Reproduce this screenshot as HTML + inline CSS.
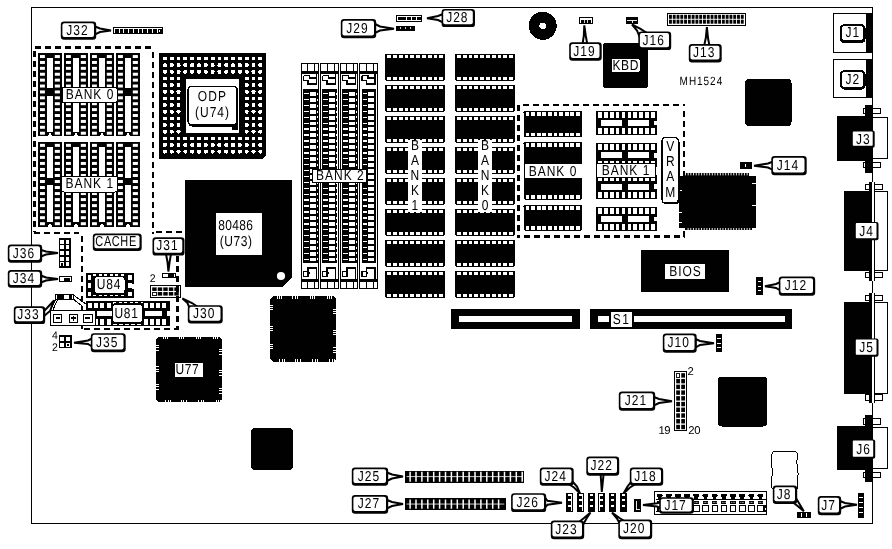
<!DOCTYPE html>
<html><head><meta charset="utf-8"><title>MH1524</title>
<style>html,body{margin:0;padding:0;background:#fff;}body{width:892px;height:549px;overflow:hidden;font-family:"Liberation Sans",sans-serif;}svg{display:block;filter:grayscale(1);}</style>
</head><body>
<svg width="892" height="549" viewBox="0 0 892 549" font-family="Liberation Sans, sans-serif" shape-rendering="crispEdges" text-rendering="geometricPrecision"><g opacity="0.999">
<path d="M31.5 7.5 H872.5 V523.5 H31.5 Z" fill="none" stroke="#000" stroke-width="1"/>
<path d="M35.00 47.50 H153.00" fill="none" stroke="#000" stroke-width="3" stroke-dasharray="6 4"/>
<path d="M34.50 51.00 V232.00" fill="none" stroke="#000" stroke-width="3" stroke-dasharray="6 4"/>
<path d="M152.50 52.00 V234.00" fill="none" stroke="#000" stroke-width="2" stroke-dasharray="6 4"/>
<path d="M33.50 233.00 H79.00" fill="none" stroke="#000" stroke-width="2" stroke-dasharray="6 4"/>
<path d="M156.00 232.00 H182.00" fill="none" stroke="#000" stroke-width="2" stroke-dasharray="6 4"/>
<path d="M82.00 236.00 V329.00" fill="none" stroke="#000" stroke-width="2" stroke-dasharray="6 4"/>
<path d="M84.00 329.00 H178.00" fill="none" stroke="#000" stroke-width="2" stroke-dasharray="6 4"/>
<rect x="37.90" y="53.20" width="23.70" height="82.80" fill="#000" />
<rect x="40.00" y="55.05" width="4.90" height="3.00" fill="#fff" shape-rendering="auto"/>
<rect x="54.80" y="55.05" width="5.10" height="3.00" fill="#fff" shape-rendering="auto"/>
<rect x="40.00" y="60.95" width="4.90" height="3.00" fill="#fff" shape-rendering="auto"/>
<rect x="54.80" y="60.95" width="5.10" height="3.00" fill="#fff" shape-rendering="auto"/>
<rect x="40.00" y="66.84" width="4.90" height="3.00" fill="#fff" shape-rendering="auto"/>
<rect x="54.80" y="66.84" width="5.10" height="3.00" fill="#fff" shape-rendering="auto"/>
<rect x="40.00" y="72.74" width="4.90" height="3.00" fill="#fff" shape-rendering="auto"/>
<rect x="54.80" y="72.74" width="5.10" height="3.00" fill="#fff" shape-rendering="auto"/>
<rect x="40.00" y="78.63" width="4.90" height="3.00" fill="#fff" shape-rendering="auto"/>
<rect x="54.80" y="78.63" width="5.10" height="3.00" fill="#fff" shape-rendering="auto"/>
<rect x="40.00" y="84.53" width="4.90" height="3.00" fill="#fff" shape-rendering="auto"/>
<rect x="54.80" y="84.53" width="5.10" height="3.00" fill="#fff" shape-rendering="auto"/>
<rect x="40.00" y="90.43" width="4.90" height="3.00" fill="#fff" shape-rendering="auto"/>
<rect x="54.80" y="90.43" width="5.10" height="3.00" fill="#fff" shape-rendering="auto"/>
<rect x="40.00" y="96.32" width="4.90" height="3.00" fill="#fff" shape-rendering="auto"/>
<rect x="54.80" y="96.32" width="5.10" height="3.00" fill="#fff" shape-rendering="auto"/>
<rect x="40.00" y="102.22" width="4.90" height="3.00" fill="#fff" shape-rendering="auto"/>
<rect x="54.80" y="102.22" width="5.10" height="3.00" fill="#fff" shape-rendering="auto"/>
<rect x="40.00" y="108.12" width="4.90" height="3.00" fill="#fff" shape-rendering="auto"/>
<rect x="54.80" y="108.12" width="5.10" height="3.00" fill="#fff" shape-rendering="auto"/>
<rect x="40.00" y="114.01" width="4.90" height="3.00" fill="#fff" shape-rendering="auto"/>
<rect x="54.80" y="114.01" width="5.10" height="3.00" fill="#fff" shape-rendering="auto"/>
<rect x="40.00" y="119.91" width="4.90" height="3.00" fill="#fff" shape-rendering="auto"/>
<rect x="54.80" y="119.91" width="5.10" height="3.00" fill="#fff" shape-rendering="auto"/>
<rect x="40.00" y="125.80" width="4.90" height="3.00" fill="#fff" shape-rendering="auto"/>
<rect x="54.80" y="125.80" width="5.10" height="3.00" fill="#fff" shape-rendering="auto"/>
<rect x="40.00" y="131.70" width="4.90" height="3.00" fill="#fff" shape-rendering="auto"/>
<rect x="54.80" y="131.70" width="5.10" height="3.00" fill="#fff" shape-rendering="auto"/>
<rect x="47.10" y="58.10" width="5.80" height="30.30" fill="#fff" />
<rect x="47.10" y="95.80" width="5.80" height="36.00" fill="#fff" />
<polygon points="47.40,136.20 50.00,132.80 52.60,136.20" fill="#fff"/>
<rect x="63.90" y="53.20" width="23.70" height="82.80" fill="#000" />
<rect x="66.00" y="55.05" width="4.90" height="3.00" fill="#fff" shape-rendering="auto"/>
<rect x="80.80" y="55.05" width="5.10" height="3.00" fill="#fff" shape-rendering="auto"/>
<rect x="66.00" y="60.95" width="4.90" height="3.00" fill="#fff" shape-rendering="auto"/>
<rect x="80.80" y="60.95" width="5.10" height="3.00" fill="#fff" shape-rendering="auto"/>
<rect x="66.00" y="66.84" width="4.90" height="3.00" fill="#fff" shape-rendering="auto"/>
<rect x="80.80" y="66.84" width="5.10" height="3.00" fill="#fff" shape-rendering="auto"/>
<rect x="66.00" y="72.74" width="4.90" height="3.00" fill="#fff" shape-rendering="auto"/>
<rect x="80.80" y="72.74" width="5.10" height="3.00" fill="#fff" shape-rendering="auto"/>
<rect x="66.00" y="78.63" width="4.90" height="3.00" fill="#fff" shape-rendering="auto"/>
<rect x="80.80" y="78.63" width="5.10" height="3.00" fill="#fff" shape-rendering="auto"/>
<rect x="66.00" y="84.53" width="4.90" height="3.00" fill="#fff" shape-rendering="auto"/>
<rect x="80.80" y="84.53" width="5.10" height="3.00" fill="#fff" shape-rendering="auto"/>
<rect x="66.00" y="90.43" width="4.90" height="3.00" fill="#fff" shape-rendering="auto"/>
<rect x="80.80" y="90.43" width="5.10" height="3.00" fill="#fff" shape-rendering="auto"/>
<rect x="66.00" y="96.32" width="4.90" height="3.00" fill="#fff" shape-rendering="auto"/>
<rect x="80.80" y="96.32" width="5.10" height="3.00" fill="#fff" shape-rendering="auto"/>
<rect x="66.00" y="102.22" width="4.90" height="3.00" fill="#fff" shape-rendering="auto"/>
<rect x="80.80" y="102.22" width="5.10" height="3.00" fill="#fff" shape-rendering="auto"/>
<rect x="66.00" y="108.12" width="4.90" height="3.00" fill="#fff" shape-rendering="auto"/>
<rect x="80.80" y="108.12" width="5.10" height="3.00" fill="#fff" shape-rendering="auto"/>
<rect x="66.00" y="114.01" width="4.90" height="3.00" fill="#fff" shape-rendering="auto"/>
<rect x="80.80" y="114.01" width="5.10" height="3.00" fill="#fff" shape-rendering="auto"/>
<rect x="66.00" y="119.91" width="4.90" height="3.00" fill="#fff" shape-rendering="auto"/>
<rect x="80.80" y="119.91" width="5.10" height="3.00" fill="#fff" shape-rendering="auto"/>
<rect x="66.00" y="125.80" width="4.90" height="3.00" fill="#fff" shape-rendering="auto"/>
<rect x="80.80" y="125.80" width="5.10" height="3.00" fill="#fff" shape-rendering="auto"/>
<rect x="66.00" y="131.70" width="4.90" height="3.00" fill="#fff" shape-rendering="auto"/>
<rect x="80.80" y="131.70" width="5.10" height="3.00" fill="#fff" shape-rendering="auto"/>
<rect x="73.10" y="58.10" width="5.80" height="30.30" fill="#fff" />
<rect x="73.10" y="95.80" width="5.80" height="36.00" fill="#fff" />
<polygon points="73.40,136.20 76.00,132.80 78.60,136.20" fill="#fff"/>
<rect x="89.90" y="53.20" width="23.70" height="82.80" fill="#000" />
<rect x="92.00" y="55.05" width="4.90" height="3.00" fill="#fff" shape-rendering="auto"/>
<rect x="106.80" y="55.05" width="5.10" height="3.00" fill="#fff" shape-rendering="auto"/>
<rect x="92.00" y="60.95" width="4.90" height="3.00" fill="#fff" shape-rendering="auto"/>
<rect x="106.80" y="60.95" width="5.10" height="3.00" fill="#fff" shape-rendering="auto"/>
<rect x="92.00" y="66.84" width="4.90" height="3.00" fill="#fff" shape-rendering="auto"/>
<rect x="106.80" y="66.84" width="5.10" height="3.00" fill="#fff" shape-rendering="auto"/>
<rect x="92.00" y="72.74" width="4.90" height="3.00" fill="#fff" shape-rendering="auto"/>
<rect x="106.80" y="72.74" width="5.10" height="3.00" fill="#fff" shape-rendering="auto"/>
<rect x="92.00" y="78.63" width="4.90" height="3.00" fill="#fff" shape-rendering="auto"/>
<rect x="106.80" y="78.63" width="5.10" height="3.00" fill="#fff" shape-rendering="auto"/>
<rect x="92.00" y="84.53" width="4.90" height="3.00" fill="#fff" shape-rendering="auto"/>
<rect x="106.80" y="84.53" width="5.10" height="3.00" fill="#fff" shape-rendering="auto"/>
<rect x="92.00" y="90.43" width="4.90" height="3.00" fill="#fff" shape-rendering="auto"/>
<rect x="106.80" y="90.43" width="5.10" height="3.00" fill="#fff" shape-rendering="auto"/>
<rect x="92.00" y="96.32" width="4.90" height="3.00" fill="#fff" shape-rendering="auto"/>
<rect x="106.80" y="96.32" width="5.10" height="3.00" fill="#fff" shape-rendering="auto"/>
<rect x="92.00" y="102.22" width="4.90" height="3.00" fill="#fff" shape-rendering="auto"/>
<rect x="106.80" y="102.22" width="5.10" height="3.00" fill="#fff" shape-rendering="auto"/>
<rect x="92.00" y="108.12" width="4.90" height="3.00" fill="#fff" shape-rendering="auto"/>
<rect x="106.80" y="108.12" width="5.10" height="3.00" fill="#fff" shape-rendering="auto"/>
<rect x="92.00" y="114.01" width="4.90" height="3.00" fill="#fff" shape-rendering="auto"/>
<rect x="106.80" y="114.01" width="5.10" height="3.00" fill="#fff" shape-rendering="auto"/>
<rect x="92.00" y="119.91" width="4.90" height="3.00" fill="#fff" shape-rendering="auto"/>
<rect x="106.80" y="119.91" width="5.10" height="3.00" fill="#fff" shape-rendering="auto"/>
<rect x="92.00" y="125.80" width="4.90" height="3.00" fill="#fff" shape-rendering="auto"/>
<rect x="106.80" y="125.80" width="5.10" height="3.00" fill="#fff" shape-rendering="auto"/>
<rect x="92.00" y="131.70" width="4.90" height="3.00" fill="#fff" shape-rendering="auto"/>
<rect x="106.80" y="131.70" width="5.10" height="3.00" fill="#fff" shape-rendering="auto"/>
<rect x="99.10" y="58.10" width="5.80" height="30.30" fill="#fff" />
<rect x="99.10" y="95.80" width="5.80" height="36.00" fill="#fff" />
<polygon points="99.40,136.20 102.00,132.80 104.60,136.20" fill="#fff"/>
<rect x="115.90" y="53.20" width="23.70" height="82.80" fill="#000" />
<rect x="118.00" y="55.05" width="4.90" height="3.00" fill="#fff" shape-rendering="auto"/>
<rect x="132.80" y="55.05" width="5.10" height="3.00" fill="#fff" shape-rendering="auto"/>
<rect x="118.00" y="60.95" width="4.90" height="3.00" fill="#fff" shape-rendering="auto"/>
<rect x="132.80" y="60.95" width="5.10" height="3.00" fill="#fff" shape-rendering="auto"/>
<rect x="118.00" y="66.84" width="4.90" height="3.00" fill="#fff" shape-rendering="auto"/>
<rect x="132.80" y="66.84" width="5.10" height="3.00" fill="#fff" shape-rendering="auto"/>
<rect x="118.00" y="72.74" width="4.90" height="3.00" fill="#fff" shape-rendering="auto"/>
<rect x="132.80" y="72.74" width="5.10" height="3.00" fill="#fff" shape-rendering="auto"/>
<rect x="118.00" y="78.63" width="4.90" height="3.00" fill="#fff" shape-rendering="auto"/>
<rect x="132.80" y="78.63" width="5.10" height="3.00" fill="#fff" shape-rendering="auto"/>
<rect x="118.00" y="84.53" width="4.90" height="3.00" fill="#fff" shape-rendering="auto"/>
<rect x="132.80" y="84.53" width="5.10" height="3.00" fill="#fff" shape-rendering="auto"/>
<rect x="118.00" y="90.43" width="4.90" height="3.00" fill="#fff" shape-rendering="auto"/>
<rect x="132.80" y="90.43" width="5.10" height="3.00" fill="#fff" shape-rendering="auto"/>
<rect x="118.00" y="96.32" width="4.90" height="3.00" fill="#fff" shape-rendering="auto"/>
<rect x="132.80" y="96.32" width="5.10" height="3.00" fill="#fff" shape-rendering="auto"/>
<rect x="118.00" y="102.22" width="4.90" height="3.00" fill="#fff" shape-rendering="auto"/>
<rect x="132.80" y="102.22" width="5.10" height="3.00" fill="#fff" shape-rendering="auto"/>
<rect x="118.00" y="108.12" width="4.90" height="3.00" fill="#fff" shape-rendering="auto"/>
<rect x="132.80" y="108.12" width="5.10" height="3.00" fill="#fff" shape-rendering="auto"/>
<rect x="118.00" y="114.01" width="4.90" height="3.00" fill="#fff" shape-rendering="auto"/>
<rect x="132.80" y="114.01" width="5.10" height="3.00" fill="#fff" shape-rendering="auto"/>
<rect x="118.00" y="119.91" width="4.90" height="3.00" fill="#fff" shape-rendering="auto"/>
<rect x="132.80" y="119.91" width="5.10" height="3.00" fill="#fff" shape-rendering="auto"/>
<rect x="118.00" y="125.80" width="4.90" height="3.00" fill="#fff" shape-rendering="auto"/>
<rect x="132.80" y="125.80" width="5.10" height="3.00" fill="#fff" shape-rendering="auto"/>
<rect x="118.00" y="131.70" width="4.90" height="3.00" fill="#fff" shape-rendering="auto"/>
<rect x="132.80" y="131.70" width="5.10" height="3.00" fill="#fff" shape-rendering="auto"/>
<rect x="125.10" y="58.10" width="5.80" height="30.30" fill="#fff" />
<rect x="125.10" y="95.80" width="5.80" height="36.00" fill="#fff" />
<polygon points="125.40,136.20 128.00,132.80 130.60,136.20" fill="#fff"/>
<rect x="37.90" y="142.00" width="23.70" height="84.50" fill="#000" />
<rect x="40.00" y="143.85" width="4.90" height="3.00" fill="#fff" shape-rendering="auto"/>
<rect x="54.80" y="143.85" width="5.10" height="3.00" fill="#fff" shape-rendering="auto"/>
<rect x="40.00" y="149.88" width="4.90" height="3.00" fill="#fff" shape-rendering="auto"/>
<rect x="54.80" y="149.88" width="5.10" height="3.00" fill="#fff" shape-rendering="auto"/>
<rect x="40.00" y="155.90" width="4.90" height="3.00" fill="#fff" shape-rendering="auto"/>
<rect x="54.80" y="155.90" width="5.10" height="3.00" fill="#fff" shape-rendering="auto"/>
<rect x="40.00" y="161.93" width="4.90" height="3.00" fill="#fff" shape-rendering="auto"/>
<rect x="54.80" y="161.93" width="5.10" height="3.00" fill="#fff" shape-rendering="auto"/>
<rect x="40.00" y="167.96" width="4.90" height="3.00" fill="#fff" shape-rendering="auto"/>
<rect x="54.80" y="167.96" width="5.10" height="3.00" fill="#fff" shape-rendering="auto"/>
<rect x="40.00" y="173.98" width="4.90" height="3.00" fill="#fff" shape-rendering="auto"/>
<rect x="54.80" y="173.98" width="5.10" height="3.00" fill="#fff" shape-rendering="auto"/>
<rect x="40.00" y="180.01" width="4.90" height="3.00" fill="#fff" shape-rendering="auto"/>
<rect x="54.80" y="180.01" width="5.10" height="3.00" fill="#fff" shape-rendering="auto"/>
<rect x="40.00" y="186.04" width="4.90" height="3.00" fill="#fff" shape-rendering="auto"/>
<rect x="54.80" y="186.04" width="5.10" height="3.00" fill="#fff" shape-rendering="auto"/>
<rect x="40.00" y="192.07" width="4.90" height="3.00" fill="#fff" shape-rendering="auto"/>
<rect x="54.80" y="192.07" width="5.10" height="3.00" fill="#fff" shape-rendering="auto"/>
<rect x="40.00" y="198.09" width="4.90" height="3.00" fill="#fff" shape-rendering="auto"/>
<rect x="54.80" y="198.09" width="5.10" height="3.00" fill="#fff" shape-rendering="auto"/>
<rect x="40.00" y="204.12" width="4.90" height="3.00" fill="#fff" shape-rendering="auto"/>
<rect x="54.80" y="204.12" width="5.10" height="3.00" fill="#fff" shape-rendering="auto"/>
<rect x="40.00" y="210.15" width="4.90" height="3.00" fill="#fff" shape-rendering="auto"/>
<rect x="54.80" y="210.15" width="5.10" height="3.00" fill="#fff" shape-rendering="auto"/>
<rect x="40.00" y="216.17" width="4.90" height="3.00" fill="#fff" shape-rendering="auto"/>
<rect x="54.80" y="216.17" width="5.10" height="3.00" fill="#fff" shape-rendering="auto"/>
<rect x="40.00" y="222.20" width="4.90" height="3.00" fill="#fff" shape-rendering="auto"/>
<rect x="54.80" y="222.20" width="5.10" height="3.00" fill="#fff" shape-rendering="auto"/>
<rect x="47.10" y="146.90" width="5.80" height="31.15" fill="#fff" />
<rect x="47.10" y="185.45" width="5.80" height="36.85" fill="#fff" />
<polygon points="47.40,226.70 50.00,223.30 52.60,226.70" fill="#fff"/>
<rect x="63.90" y="142.00" width="23.70" height="84.50" fill="#000" />
<rect x="66.00" y="143.85" width="4.90" height="3.00" fill="#fff" shape-rendering="auto"/>
<rect x="80.80" y="143.85" width="5.10" height="3.00" fill="#fff" shape-rendering="auto"/>
<rect x="66.00" y="149.88" width="4.90" height="3.00" fill="#fff" shape-rendering="auto"/>
<rect x="80.80" y="149.88" width="5.10" height="3.00" fill="#fff" shape-rendering="auto"/>
<rect x="66.00" y="155.90" width="4.90" height="3.00" fill="#fff" shape-rendering="auto"/>
<rect x="80.80" y="155.90" width="5.10" height="3.00" fill="#fff" shape-rendering="auto"/>
<rect x="66.00" y="161.93" width="4.90" height="3.00" fill="#fff" shape-rendering="auto"/>
<rect x="80.80" y="161.93" width="5.10" height="3.00" fill="#fff" shape-rendering="auto"/>
<rect x="66.00" y="167.96" width="4.90" height="3.00" fill="#fff" shape-rendering="auto"/>
<rect x="80.80" y="167.96" width="5.10" height="3.00" fill="#fff" shape-rendering="auto"/>
<rect x="66.00" y="173.98" width="4.90" height="3.00" fill="#fff" shape-rendering="auto"/>
<rect x="80.80" y="173.98" width="5.10" height="3.00" fill="#fff" shape-rendering="auto"/>
<rect x="66.00" y="180.01" width="4.90" height="3.00" fill="#fff" shape-rendering="auto"/>
<rect x="80.80" y="180.01" width="5.10" height="3.00" fill="#fff" shape-rendering="auto"/>
<rect x="66.00" y="186.04" width="4.90" height="3.00" fill="#fff" shape-rendering="auto"/>
<rect x="80.80" y="186.04" width="5.10" height="3.00" fill="#fff" shape-rendering="auto"/>
<rect x="66.00" y="192.07" width="4.90" height="3.00" fill="#fff" shape-rendering="auto"/>
<rect x="80.80" y="192.07" width="5.10" height="3.00" fill="#fff" shape-rendering="auto"/>
<rect x="66.00" y="198.09" width="4.90" height="3.00" fill="#fff" shape-rendering="auto"/>
<rect x="80.80" y="198.09" width="5.10" height="3.00" fill="#fff" shape-rendering="auto"/>
<rect x="66.00" y="204.12" width="4.90" height="3.00" fill="#fff" shape-rendering="auto"/>
<rect x="80.80" y="204.12" width="5.10" height="3.00" fill="#fff" shape-rendering="auto"/>
<rect x="66.00" y="210.15" width="4.90" height="3.00" fill="#fff" shape-rendering="auto"/>
<rect x="80.80" y="210.15" width="5.10" height="3.00" fill="#fff" shape-rendering="auto"/>
<rect x="66.00" y="216.17" width="4.90" height="3.00" fill="#fff" shape-rendering="auto"/>
<rect x="80.80" y="216.17" width="5.10" height="3.00" fill="#fff" shape-rendering="auto"/>
<rect x="66.00" y="222.20" width="4.90" height="3.00" fill="#fff" shape-rendering="auto"/>
<rect x="80.80" y="222.20" width="5.10" height="3.00" fill="#fff" shape-rendering="auto"/>
<rect x="73.10" y="146.90" width="5.80" height="31.15" fill="#fff" />
<rect x="73.10" y="185.45" width="5.80" height="36.85" fill="#fff" />
<polygon points="73.40,226.70 76.00,223.30 78.60,226.70" fill="#fff"/>
<rect x="89.90" y="142.00" width="23.70" height="84.50" fill="#000" />
<rect x="92.00" y="143.85" width="4.90" height="3.00" fill="#fff" shape-rendering="auto"/>
<rect x="106.80" y="143.85" width="5.10" height="3.00" fill="#fff" shape-rendering="auto"/>
<rect x="92.00" y="149.88" width="4.90" height="3.00" fill="#fff" shape-rendering="auto"/>
<rect x="106.80" y="149.88" width="5.10" height="3.00" fill="#fff" shape-rendering="auto"/>
<rect x="92.00" y="155.90" width="4.90" height="3.00" fill="#fff" shape-rendering="auto"/>
<rect x="106.80" y="155.90" width="5.10" height="3.00" fill="#fff" shape-rendering="auto"/>
<rect x="92.00" y="161.93" width="4.90" height="3.00" fill="#fff" shape-rendering="auto"/>
<rect x="106.80" y="161.93" width="5.10" height="3.00" fill="#fff" shape-rendering="auto"/>
<rect x="92.00" y="167.96" width="4.90" height="3.00" fill="#fff" shape-rendering="auto"/>
<rect x="106.80" y="167.96" width="5.10" height="3.00" fill="#fff" shape-rendering="auto"/>
<rect x="92.00" y="173.98" width="4.90" height="3.00" fill="#fff" shape-rendering="auto"/>
<rect x="106.80" y="173.98" width="5.10" height="3.00" fill="#fff" shape-rendering="auto"/>
<rect x="92.00" y="180.01" width="4.90" height="3.00" fill="#fff" shape-rendering="auto"/>
<rect x="106.80" y="180.01" width="5.10" height="3.00" fill="#fff" shape-rendering="auto"/>
<rect x="92.00" y="186.04" width="4.90" height="3.00" fill="#fff" shape-rendering="auto"/>
<rect x="106.80" y="186.04" width="5.10" height="3.00" fill="#fff" shape-rendering="auto"/>
<rect x="92.00" y="192.07" width="4.90" height="3.00" fill="#fff" shape-rendering="auto"/>
<rect x="106.80" y="192.07" width="5.10" height="3.00" fill="#fff" shape-rendering="auto"/>
<rect x="92.00" y="198.09" width="4.90" height="3.00" fill="#fff" shape-rendering="auto"/>
<rect x="106.80" y="198.09" width="5.10" height="3.00" fill="#fff" shape-rendering="auto"/>
<rect x="92.00" y="204.12" width="4.90" height="3.00" fill="#fff" shape-rendering="auto"/>
<rect x="106.80" y="204.12" width="5.10" height="3.00" fill="#fff" shape-rendering="auto"/>
<rect x="92.00" y="210.15" width="4.90" height="3.00" fill="#fff" shape-rendering="auto"/>
<rect x="106.80" y="210.15" width="5.10" height="3.00" fill="#fff" shape-rendering="auto"/>
<rect x="92.00" y="216.17" width="4.90" height="3.00" fill="#fff" shape-rendering="auto"/>
<rect x="106.80" y="216.17" width="5.10" height="3.00" fill="#fff" shape-rendering="auto"/>
<rect x="92.00" y="222.20" width="4.90" height="3.00" fill="#fff" shape-rendering="auto"/>
<rect x="106.80" y="222.20" width="5.10" height="3.00" fill="#fff" shape-rendering="auto"/>
<rect x="99.10" y="146.90" width="5.80" height="31.15" fill="#fff" />
<rect x="99.10" y="185.45" width="5.80" height="36.85" fill="#fff" />
<polygon points="99.40,226.70 102.00,223.30 104.60,226.70" fill="#fff"/>
<rect x="115.90" y="142.00" width="23.70" height="84.50" fill="#000" />
<rect x="118.00" y="143.85" width="4.90" height="3.00" fill="#fff" shape-rendering="auto"/>
<rect x="132.80" y="143.85" width="5.10" height="3.00" fill="#fff" shape-rendering="auto"/>
<rect x="118.00" y="149.88" width="4.90" height="3.00" fill="#fff" shape-rendering="auto"/>
<rect x="132.80" y="149.88" width="5.10" height="3.00" fill="#fff" shape-rendering="auto"/>
<rect x="118.00" y="155.90" width="4.90" height="3.00" fill="#fff" shape-rendering="auto"/>
<rect x="132.80" y="155.90" width="5.10" height="3.00" fill="#fff" shape-rendering="auto"/>
<rect x="118.00" y="161.93" width="4.90" height="3.00" fill="#fff" shape-rendering="auto"/>
<rect x="132.80" y="161.93" width="5.10" height="3.00" fill="#fff" shape-rendering="auto"/>
<rect x="118.00" y="167.96" width="4.90" height="3.00" fill="#fff" shape-rendering="auto"/>
<rect x="132.80" y="167.96" width="5.10" height="3.00" fill="#fff" shape-rendering="auto"/>
<rect x="118.00" y="173.98" width="4.90" height="3.00" fill="#fff" shape-rendering="auto"/>
<rect x="132.80" y="173.98" width="5.10" height="3.00" fill="#fff" shape-rendering="auto"/>
<rect x="118.00" y="180.01" width="4.90" height="3.00" fill="#fff" shape-rendering="auto"/>
<rect x="132.80" y="180.01" width="5.10" height="3.00" fill="#fff" shape-rendering="auto"/>
<rect x="118.00" y="186.04" width="4.90" height="3.00" fill="#fff" shape-rendering="auto"/>
<rect x="132.80" y="186.04" width="5.10" height="3.00" fill="#fff" shape-rendering="auto"/>
<rect x="118.00" y="192.07" width="4.90" height="3.00" fill="#fff" shape-rendering="auto"/>
<rect x="132.80" y="192.07" width="5.10" height="3.00" fill="#fff" shape-rendering="auto"/>
<rect x="118.00" y="198.09" width="4.90" height="3.00" fill="#fff" shape-rendering="auto"/>
<rect x="132.80" y="198.09" width="5.10" height="3.00" fill="#fff" shape-rendering="auto"/>
<rect x="118.00" y="204.12" width="4.90" height="3.00" fill="#fff" shape-rendering="auto"/>
<rect x="132.80" y="204.12" width="5.10" height="3.00" fill="#fff" shape-rendering="auto"/>
<rect x="118.00" y="210.15" width="4.90" height="3.00" fill="#fff" shape-rendering="auto"/>
<rect x="132.80" y="210.15" width="5.10" height="3.00" fill="#fff" shape-rendering="auto"/>
<rect x="118.00" y="216.17" width="4.90" height="3.00" fill="#fff" shape-rendering="auto"/>
<rect x="132.80" y="216.17" width="5.10" height="3.00" fill="#fff" shape-rendering="auto"/>
<rect x="118.00" y="222.20" width="4.90" height="3.00" fill="#fff" shape-rendering="auto"/>
<rect x="132.80" y="222.20" width="5.10" height="3.00" fill="#fff" shape-rendering="auto"/>
<rect x="125.10" y="146.90" width="5.80" height="31.15" fill="#fff" />
<rect x="125.10" y="185.45" width="5.80" height="36.85" fill="#fff" />
<polygon points="125.40,226.70 128.00,223.30 130.60,226.70" fill="#fff"/>
<rect x="62.00" y="87.50" width="55.00" height="15.00" fill="#fff" stroke="#000" stroke-width="1" rx="1.5" />
<text transform="translate(90.00 99.32) scale(1 1.2)" font-size="12" text-anchor="middle" letter-spacing="1" fill="#000" >BANK 0</text>
<rect x="61.00" y="176.00" width="56.50" height="16.00" fill="#fff" stroke="#000" stroke-width="1" rx="3" />
<text transform="translate(89.75 188.32) scale(1 1.2)" font-size="12" text-anchor="middle" letter-spacing="1" fill="#000" >BANK 1</text>
<rect x="92.80" y="233.60" width="48.90" height="17.40" fill="#000" rx="3.2" shape-rendering="geometricPrecision"/>
<rect x="94.40" y="235.20" width="45.10" height="13.00" fill="#fff" rx="2.0" shape-rendering="geometricPrecision"/>
<text transform="translate(116.10 246.32) scale(1 1.2)" font-size="12" text-anchor="middle" letter-spacing="0.7" fill="#000" textLength="41.5" lengthAdjust="spacingAndGlyphs">CACHE</text>
<path d="M159 53 H266 V155 L262 159 H159 Z" fill="#000"/>
<rect x="163.00" y="56.70" width="3.80" height="3.60" fill="#fff" />
<rect x="169.81" y="56.70" width="3.80" height="3.60" fill="#fff" />
<rect x="176.63" y="56.70" width="3.80" height="3.60" fill="#fff" />
<rect x="183.44" y="56.70" width="3.80" height="3.60" fill="#fff" />
<rect x="190.26" y="56.70" width="3.80" height="3.60" fill="#fff" />
<rect x="197.08" y="56.70" width="3.80" height="3.60" fill="#fff" />
<rect x="203.89" y="56.70" width="3.80" height="3.60" fill="#fff" />
<rect x="210.71" y="56.70" width="3.80" height="3.60" fill="#fff" />
<rect x="217.52" y="56.70" width="3.80" height="3.60" fill="#fff" />
<rect x="224.34" y="56.70" width="3.80" height="3.60" fill="#fff" />
<rect x="231.15" y="56.70" width="3.80" height="3.60" fill="#fff" />
<rect x="237.97" y="56.70" width="3.80" height="3.60" fill="#fff" />
<rect x="244.78" y="56.70" width="3.80" height="3.60" fill="#fff" />
<rect x="251.59" y="56.70" width="3.80" height="3.60" fill="#fff" />
<rect x="258.41" y="56.70" width="3.80" height="3.60" fill="#fff" />
<circle cx="164.90" cy="65.15" r="2.1" fill="#fff"/>
<circle cx="171.72" cy="65.15" r="2.1" fill="#fff"/>
<circle cx="178.53" cy="65.15" r="2.1" fill="#fff"/>
<circle cx="185.34" cy="65.15" r="2.1" fill="#fff"/>
<circle cx="192.16" cy="65.15" r="2.1" fill="#fff"/>
<circle cx="198.98" cy="65.15" r="2.1" fill="#fff"/>
<circle cx="205.79" cy="65.15" r="2.1" fill="#fff"/>
<circle cx="212.61" cy="65.15" r="2.1" fill="#fff"/>
<circle cx="219.42" cy="65.15" r="2.1" fill="#fff"/>
<circle cx="226.24" cy="65.15" r="2.1" fill="#fff"/>
<circle cx="233.05" cy="65.15" r="2.1" fill="#fff"/>
<circle cx="239.87" cy="65.15" r="2.1" fill="#fff"/>
<circle cx="246.68" cy="65.15" r="2.1" fill="#fff"/>
<circle cx="253.50" cy="65.15" r="2.1" fill="#fff"/>
<circle cx="260.31" cy="65.15" r="2.1" fill="#fff"/>
<circle cx="164.90" cy="71.80" r="2.1" fill="#fff"/>
<circle cx="171.72" cy="71.80" r="2.1" fill="#fff"/>
<circle cx="178.53" cy="71.80" r="2.1" fill="#fff"/>
<circle cx="185.34" cy="71.80" r="2.1" fill="#fff"/>
<circle cx="192.16" cy="71.80" r="2.1" fill="#fff"/>
<circle cx="198.98" cy="71.80" r="2.1" fill="#fff"/>
<circle cx="205.79" cy="71.80" r="2.1" fill="#fff"/>
<circle cx="212.61" cy="71.80" r="2.1" fill="#fff"/>
<circle cx="219.42" cy="71.80" r="2.1" fill="#fff"/>
<circle cx="226.24" cy="71.80" r="2.1" fill="#fff"/>
<circle cx="233.05" cy="71.80" r="2.1" fill="#fff"/>
<circle cx="239.87" cy="71.80" r="2.1" fill="#fff"/>
<circle cx="246.68" cy="71.80" r="2.1" fill="#fff"/>
<circle cx="253.50" cy="71.80" r="2.1" fill="#fff"/>
<circle cx="260.31" cy="71.80" r="2.1" fill="#fff"/>
<rect x="163.00" y="76.65" width="3.80" height="3.60" fill="#fff" />
<rect x="169.81" y="76.65" width="3.80" height="3.60" fill="#fff" />
<rect x="176.63" y="76.65" width="3.80" height="3.60" fill="#fff" />
<rect x="244.78" y="76.65" width="3.80" height="3.60" fill="#fff" />
<rect x="251.59" y="76.65" width="3.80" height="3.60" fill="#fff" />
<rect x="258.41" y="76.65" width="3.80" height="3.60" fill="#fff" />
<circle cx="164.90" cy="85.10" r="2.1" fill="#fff"/>
<circle cx="171.72" cy="85.10" r="2.1" fill="#fff"/>
<circle cx="178.53" cy="85.10" r="2.1" fill="#fff"/>
<circle cx="246.68" cy="85.10" r="2.1" fill="#fff"/>
<circle cx="253.50" cy="85.10" r="2.1" fill="#fff"/>
<circle cx="260.31" cy="85.10" r="2.1" fill="#fff"/>
<circle cx="164.90" cy="91.75" r="2.1" fill="#fff"/>
<circle cx="171.72" cy="91.75" r="2.1" fill="#fff"/>
<circle cx="178.53" cy="91.75" r="2.1" fill="#fff"/>
<circle cx="246.68" cy="91.75" r="2.1" fill="#fff"/>
<circle cx="253.50" cy="91.75" r="2.1" fill="#fff"/>
<circle cx="260.31" cy="91.75" r="2.1" fill="#fff"/>
<rect x="163.00" y="96.60" width="3.80" height="3.60" fill="#fff" />
<rect x="169.81" y="96.60" width="3.80" height="3.60" fill="#fff" />
<rect x="176.63" y="96.60" width="3.80" height="3.60" fill="#fff" />
<rect x="244.78" y="96.60" width="3.80" height="3.60" fill="#fff" />
<rect x="251.59" y="96.60" width="3.80" height="3.60" fill="#fff" />
<rect x="258.41" y="96.60" width="3.80" height="3.60" fill="#fff" />
<circle cx="164.90" cy="105.05" r="2.1" fill="#fff"/>
<circle cx="171.72" cy="105.05" r="2.1" fill="#fff"/>
<circle cx="178.53" cy="105.05" r="2.1" fill="#fff"/>
<circle cx="246.68" cy="105.05" r="2.1" fill="#fff"/>
<circle cx="253.50" cy="105.05" r="2.1" fill="#fff"/>
<circle cx="260.31" cy="105.05" r="2.1" fill="#fff"/>
<circle cx="164.90" cy="111.70" r="2.1" fill="#fff"/>
<circle cx="171.72" cy="111.70" r="2.1" fill="#fff"/>
<circle cx="178.53" cy="111.70" r="2.1" fill="#fff"/>
<circle cx="246.68" cy="111.70" r="2.1" fill="#fff"/>
<circle cx="253.50" cy="111.70" r="2.1" fill="#fff"/>
<circle cx="260.31" cy="111.70" r="2.1" fill="#fff"/>
<rect x="163.00" y="116.55" width="3.80" height="3.60" fill="#fff" />
<rect x="169.81" y="116.55" width="3.80" height="3.60" fill="#fff" />
<rect x="176.63" y="116.55" width="3.80" height="3.60" fill="#fff" />
<rect x="244.78" y="116.55" width="3.80" height="3.60" fill="#fff" />
<rect x="251.59" y="116.55" width="3.80" height="3.60" fill="#fff" />
<rect x="258.41" y="116.55" width="3.80" height="3.60" fill="#fff" />
<circle cx="164.90" cy="125.00" r="2.1" fill="#fff"/>
<circle cx="171.72" cy="125.00" r="2.1" fill="#fff"/>
<circle cx="178.53" cy="125.00" r="2.1" fill="#fff"/>
<circle cx="246.68" cy="125.00" r="2.1" fill="#fff"/>
<circle cx="253.50" cy="125.00" r="2.1" fill="#fff"/>
<circle cx="260.31" cy="125.00" r="2.1" fill="#fff"/>
<circle cx="164.90" cy="131.65" r="2.1" fill="#fff"/>
<circle cx="171.72" cy="131.65" r="2.1" fill="#fff"/>
<circle cx="178.53" cy="131.65" r="2.1" fill="#fff"/>
<circle cx="246.68" cy="131.65" r="2.1" fill="#fff"/>
<circle cx="253.50" cy="131.65" r="2.1" fill="#fff"/>
<circle cx="260.31" cy="131.65" r="2.1" fill="#fff"/>
<rect x="163.00" y="136.50" width="3.80" height="3.60" fill="#fff" />
<rect x="169.81" y="136.50" width="3.80" height="3.60" fill="#fff" />
<rect x="176.63" y="136.50" width="3.80" height="3.60" fill="#fff" />
<rect x="183.44" y="136.50" width="3.80" height="3.60" fill="#fff" />
<rect x="190.26" y="136.50" width="3.80" height="3.60" fill="#fff" />
<rect x="197.08" y="136.50" width="3.80" height="3.60" fill="#fff" />
<rect x="203.89" y="136.50" width="3.80" height="3.60" fill="#fff" />
<rect x="210.71" y="136.50" width="3.80" height="3.60" fill="#fff" />
<rect x="217.52" y="136.50" width="3.80" height="3.60" fill="#fff" />
<rect x="224.34" y="136.50" width="3.80" height="3.60" fill="#fff" />
<rect x="231.15" y="136.50" width="3.80" height="3.60" fill="#fff" />
<rect x="237.97" y="136.50" width="3.80" height="3.60" fill="#fff" />
<rect x="244.78" y="136.50" width="3.80" height="3.60" fill="#fff" />
<rect x="251.59" y="136.50" width="3.80" height="3.60" fill="#fff" />
<rect x="258.41" y="136.50" width="3.80" height="3.60" fill="#fff" />
<circle cx="164.90" cy="144.95" r="2.1" fill="#fff"/>
<circle cx="171.72" cy="144.95" r="2.1" fill="#fff"/>
<circle cx="178.53" cy="144.95" r="2.1" fill="#fff"/>
<circle cx="185.34" cy="144.95" r="2.1" fill="#fff"/>
<circle cx="192.16" cy="144.95" r="2.1" fill="#fff"/>
<circle cx="198.98" cy="144.95" r="2.1" fill="#fff"/>
<circle cx="205.79" cy="144.95" r="2.1" fill="#fff"/>
<circle cx="212.61" cy="144.95" r="2.1" fill="#fff"/>
<circle cx="219.42" cy="144.95" r="2.1" fill="#fff"/>
<circle cx="226.24" cy="144.95" r="2.1" fill="#fff"/>
<circle cx="233.05" cy="144.95" r="2.1" fill="#fff"/>
<circle cx="239.87" cy="144.95" r="2.1" fill="#fff"/>
<circle cx="246.68" cy="144.95" r="2.1" fill="#fff"/>
<circle cx="253.50" cy="144.95" r="2.1" fill="#fff"/>
<circle cx="260.31" cy="144.95" r="2.1" fill="#fff"/>
<circle cx="164.90" cy="151.60" r="2.1" fill="#fff"/>
<circle cx="171.72" cy="151.60" r="2.1" fill="#fff"/>
<circle cx="178.53" cy="151.60" r="2.1" fill="#fff"/>
<circle cx="185.34" cy="151.60" r="2.1" fill="#fff"/>
<circle cx="192.16" cy="151.60" r="2.1" fill="#fff"/>
<circle cx="198.98" cy="151.60" r="2.1" fill="#fff"/>
<circle cx="205.79" cy="151.60" r="2.1" fill="#fff"/>
<circle cx="212.61" cy="151.60" r="2.1" fill="#fff"/>
<circle cx="219.42" cy="151.60" r="2.1" fill="#fff"/>
<circle cx="226.24" cy="151.60" r="2.1" fill="#fff"/>
<circle cx="233.05" cy="151.60" r="2.1" fill="#fff"/>
<circle cx="239.87" cy="151.60" r="2.1" fill="#fff"/>
<circle cx="246.68" cy="151.60" r="2.1" fill="#fff"/>
<circle cx="253.50" cy="151.60" r="2.1" fill="#fff"/>
<circle cx="260.31" cy="151.60" r="2.1" fill="#fff"/>
<rect x="185.60" y="79.00" width="53.40" height="54.00" fill="#fff" />
<rect x="188.50" y="87.00" width="49.50" height="39.50" fill="#000" rx="3" />
<rect x="188.00" y="86.50" width="48.50" height="38.00" fill="#fff" stroke="#000" stroke-width="1.2" rx="3" />
<rect x="232.00" y="124.00" width="5.50" height="5.50" fill="#000" />
<text transform="translate(212.50 101.20) scale(1 1.2)" font-size="12" text-anchor="middle" letter-spacing="1.2" fill="#000" >ODP</text>
<text transform="translate(212.50 116.80) scale(1 1.2)" font-size="12" text-anchor="middle" letter-spacing="1" fill="#000" >(U74)</text>
<path d="M185 180 H291.8 V278 L283 286.5 H185 Z" fill="#000"/>
<rect x="215.70" y="212.50" width="46.50" height="42.50" fill="#fff" />
<circle cx="281" cy="276" r="4.1" fill="#fff" shape-rendering="geometricPrecision"/>
<text transform="translate(235.80 230.00) scale(1 1.2)" font-size="12" text-anchor="middle" letter-spacing="0.3" fill="#000" >80486</text>
<text transform="translate(236.20 246.00) scale(1 1.2)" font-size="12" text-anchor="middle" letter-spacing="0.6" fill="#000" >(U73)</text>
<polygon points="95.00,26.50 100.00,28.50 111.00,30.50 100.00,32.00 95.00,34.50" fill="#fff" stroke="#000" stroke-width="2" stroke-linejoin="miter" shape-rendering="geometricPrecision"/>
<rect x="60.80" y="21.60" width="35.40" height="18.10" fill="#000" rx="3.2" shape-rendering="geometricPrecision"/>
<rect x="62.40" y="23.20" width="31.60" height="13.70" fill="#fff" rx="2.0" shape-rendering="geometricPrecision"/>
<text transform="translate(77.50 34.67) scale(1 1.2)" font-size="12" text-anchor="middle" letter-spacing="1" fill="#000" >J32</text>
<rect x="113.50" y="27.30" width="49.00" height="6.00" fill="#fff" stroke="#000" stroke-width="1" />
<rect x="114.80" y="28.50" width="3.94" height="4.30" fill="#000" />
<rect x="119.54" y="28.50" width="3.94" height="4.30" fill="#000" />
<rect x="124.28" y="28.50" width="3.94" height="4.30" fill="#000" />
<rect x="129.02" y="28.50" width="3.94" height="4.30" fill="#000" />
<rect x="133.76" y="28.50" width="3.94" height="4.30" fill="#000" />
<rect x="138.50" y="28.50" width="3.94" height="4.30" fill="#000" />
<rect x="143.24" y="28.50" width="3.94" height="4.30" fill="#000" />
<rect x="147.98" y="28.50" width="3.94" height="4.30" fill="#000" />
<rect x="152.72" y="28.50" width="3.94" height="4.30" fill="#000" />
<rect x="157.66" y="28.50" width="3.94" height="4.30" fill="#000" />
<rect x="158.66" y="29.60" width="1.74" height="2.00" fill="#fff" />
<polygon points="41.00,250.00 46.00,251.50 58.00,253.00 46.00,254.50 41.00,256.50" fill="#fff" stroke="#000" stroke-width="2" stroke-linejoin="miter" shape-rendering="geometricPrecision"/>
<rect x="7.80" y="244.60" width="34.40" height="18.10" fill="#000" rx="3.2" shape-rendering="geometricPrecision"/>
<rect x="9.40" y="246.20" width="30.60" height="13.70" fill="#fff" rx="2.0" shape-rendering="geometricPrecision"/>
<text transform="translate(24.00 257.67) scale(1 1.2)" font-size="12" text-anchor="middle" letter-spacing="1" fill="#000" >J36</text>
<rect x="58.70" y="238.00" width="11.90" height="30.00" fill="#000" />
<rect x="60.40" y="239.70" width="3.40" height="3.96" fill="#fff" />
<rect x="65.50" y="239.70" width="3.40" height="3.96" fill="#fff" />
<rect x="60.40" y="245.36" width="3.40" height="3.96" fill="#fff" />
<rect x="65.50" y="245.36" width="3.40" height="3.96" fill="#fff" />
<rect x="60.40" y="251.02" width="3.40" height="3.96" fill="#fff" />
<rect x="65.50" y="251.02" width="3.40" height="3.96" fill="#fff" />
<rect x="60.40" y="256.68" width="3.40" height="3.96" fill="#fff" />
<rect x="65.50" y="256.68" width="3.40" height="3.96" fill="#fff" />
<rect x="60.40" y="262.34" width="3.40" height="3.96" fill="#fff" />
<rect x="61.40" y="263.34" width="1.60" height="2.16" fill="#000" />
<rect x="65.50" y="262.34" width="3.40" height="3.96" fill="#fff" />
<polygon points="41.00,275.50 46.00,277.50 58.00,279.00 46.00,280.50 41.00,282.50" fill="#fff" stroke="#000" stroke-width="2" stroke-linejoin="miter" shape-rendering="geometricPrecision"/>
<rect x="7.80" y="270.10" width="34.40" height="17.60" fill="#000" rx="3.2" shape-rendering="geometricPrecision"/>
<rect x="9.40" y="271.70" width="30.60" height="13.20" fill="#fff" rx="2.0" shape-rendering="geometricPrecision"/>
<text transform="translate(24.00 282.92) scale(1 1.2)" font-size="12" text-anchor="middle" letter-spacing="1" fill="#000" >J34</text>
<rect x="59.20" y="276.70" width="12.00" height="4.80" fill="#fff" stroke="#000" stroke-width="1" />
<rect x="63.97" y="277.90" width="2.67" height="3.10" fill="#000" />
<rect x="67.43" y="277.90" width="2.67" height="3.10" fill="#000" />
<path d="M55.5 299.5 L50 311 M57.5 299.5 L52.5 311 M74 295.5 L86 304 V311 M72.5 298.5 L82 306 V311" stroke="#000" stroke-width="1" fill="none"/>
<polygon points="44.00,311.00 47.00,308.00 54.00,300.50 50.00,311.00 44.00,316.00" fill="#fff" stroke="#000" stroke-width="2" stroke-linejoin="miter" shape-rendering="geometricPrecision"/>
<rect x="13.80" y="306.30" width="31.40" height="17.80" fill="#000" rx="3.2" shape-rendering="geometricPrecision"/>
<rect x="15.40" y="307.90" width="27.60" height="13.40" fill="#fff" rx="2.0" shape-rendering="geometricPrecision"/>
<text transform="translate(28.50 319.22) scale(1 1.2)" font-size="12" text-anchor="middle" letter-spacing="1" fill="#000" >J33</text>
<rect x="55.80" y="294.20" width="17.70" height="4.80" fill="#fff" stroke="#000" stroke-width="1" />
<rect x="57.30" y="295.40" width="3.22" height="3.10" fill="#000" />
<rect x="58.30" y="296.50" width="1.02" height="0.80" fill="#fff" />
<rect x="61.12" y="295.40" width="3.23" height="3.10" fill="#000" />
<rect x="69.17" y="295.40" width="3.23" height="3.10" fill="#000" />
<rect x="58.70" y="335.20" width="13.00" height="13.20" fill="#000" />
<rect x="60.40" y="336.90" width="3.95" height="4.05" fill="#fff" />
<rect x="66.05" y="336.90" width="3.95" height="4.05" fill="#fff" />
<rect x="60.40" y="342.65" width="3.95" height="4.05" fill="#fff" />
<rect x="66.05" y="342.65" width="3.95" height="4.05" fill="#fff" />
<rect x="67.05" y="343.65" width="2.15" height="2.25" fill="#000" />
<text transform="translate(55.00 339.40) scale(1 1.05)" font-size="10.5" text-anchor="middle" letter-spacing="0" fill="#000" >4</text>
<text transform="translate(55.00 350.80) scale(1 1.05)" font-size="10.5" text-anchor="middle" letter-spacing="0" fill="#000" >2</text>
<polygon points="92.00,338.50 88.00,340.50 74.00,342.70 88.00,344.00 92.00,346.50" fill="#fff" stroke="#000" stroke-width="2" stroke-linejoin="miter" shape-rendering="geometricPrecision"/>
<rect x="90.80" y="333.20" width="34.90" height="19.00" fill="#000" rx="3.2" shape-rendering="geometricPrecision"/>
<rect x="92.40" y="334.80" width="31.10" height="14.60" fill="#fff" rx="2.0" shape-rendering="geometricPrecision"/>
<text transform="translate(107.25 346.72) scale(1 1.2)" font-size="12" text-anchor="middle" letter-spacing="1" fill="#000" >J35</text>
<rect x="86.10" y="272.90" width="47.70" height="24.60" fill="#000" />
<rect x="87.70" y="275.20" width="3.60" height="4.50" fill="#fff" />
<rect x="128.20" y="275.20" width="3.80" height="4.50" fill="#fff" />
<rect x="87.70" y="282.90" width="3.60" height="5.10" fill="#fff" />
<rect x="128.20" y="282.90" width="3.80" height="5.10" fill="#fff" />
<rect x="87.70" y="291.80" width="3.60" height="4.40" fill="#fff" />
<rect x="128.20" y="291.80" width="3.80" height="4.40" fill="#fff" />
<rect x="131.60" y="284.00" width="2.40" height="4.50" fill="#fff" />
<path d="M93 274.9 H127 M93 295.6 H127" stroke="#fff" stroke-width="1.4" stroke-dasharray="3 2.6" fill="none"/>
<rect x="93.40" y="275.80" width="32.60" height="18.80" fill="#000" rx="4" />
<rect x="94.90" y="277.20" width="29.60" height="16.00" fill="#fff" rx="3" />
<text transform="translate(109.00 289.30) scale(1 1.2)" font-size="12" text-anchor="middle" letter-spacing="0.8" fill="#000" >U84</text>
<rect x="86.10" y="301.40" width="83.90" height="24.20" fill="#000" />
<rect x="88.00" y="302.60" width="4.10" height="5.60" fill="#fff" />
<rect x="88.00" y="319.00" width="4.10" height="5.60" fill="#fff" />
<rect x="94.17" y="302.60" width="4.10" height="5.60" fill="#fff" />
<rect x="94.17" y="319.00" width="4.10" height="5.60" fill="#fff" />
<rect x="100.34" y="302.60" width="4.10" height="5.60" fill="#fff" />
<rect x="100.34" y="319.00" width="4.10" height="5.60" fill="#fff" />
<rect x="106.51" y="302.60" width="4.10" height="5.60" fill="#fff" />
<rect x="106.51" y="319.00" width="4.10" height="5.60" fill="#fff" />
<rect x="112.68" y="302.60" width="4.10" height="5.60" fill="#fff" />
<rect x="112.68" y="319.00" width="4.10" height="5.60" fill="#fff" />
<rect x="118.85" y="302.60" width="4.10" height="5.60" fill="#fff" />
<rect x="118.85" y="319.00" width="4.10" height="5.60" fill="#fff" />
<rect x="125.02" y="302.60" width="4.10" height="5.60" fill="#fff" />
<rect x="125.02" y="319.00" width="4.10" height="5.60" fill="#fff" />
<rect x="131.19" y="302.60" width="4.10" height="5.60" fill="#fff" />
<rect x="131.19" y="319.00" width="4.10" height="5.60" fill="#fff" />
<rect x="137.36" y="302.60" width="4.10" height="5.60" fill="#fff" />
<rect x="137.36" y="319.00" width="4.10" height="5.60" fill="#fff" />
<rect x="143.53" y="302.60" width="4.10" height="5.60" fill="#fff" />
<rect x="143.53" y="319.00" width="4.10" height="5.60" fill="#fff" />
<rect x="149.70" y="302.60" width="4.10" height="5.60" fill="#fff" />
<rect x="149.70" y="319.00" width="4.10" height="5.60" fill="#fff" />
<rect x="155.87" y="302.60" width="4.10" height="5.60" fill="#fff" />
<rect x="155.87" y="319.00" width="4.10" height="5.60" fill="#fff" />
<rect x="162.04" y="302.60" width="4.10" height="5.60" fill="#fff" />
<rect x="162.04" y="319.00" width="4.10" height="5.60" fill="#fff" />
<rect x="97.20" y="311.10" width="14.30" height="5.00" fill="#fff" />
<rect x="145.00" y="311.10" width="16.60" height="5.00" fill="#fff" />
<rect x="166.80" y="311.20" width="3.40" height="4.80" fill="#fff" />
<path d="M113 302.4 H143" stroke="#fff" stroke-width="1.2" stroke-dasharray="3 2.6" fill="none"/>
<rect x="111.90" y="303.30" width="31.60" height="20.90" fill="#000" rx="4" />
<rect x="113.30" y="304.70" width="28.70" height="17.70" fill="#fff" rx="3" />
<text transform="translate(126.60 318.10) scale(1 1.2)" font-size="12" text-anchor="middle" letter-spacing="0.8" fill="#000" >U81</text>
<rect x="50.50" y="310.90" width="45.10" height="14.30" fill="#fff" stroke="#000" stroke-width="1" />
<rect x="53.80" y="314.00" width="8.00" height="8.00" fill="#fff" stroke="#000" stroke-width="1" />
<path d="M55.60 318 H60.00" stroke="#000" stroke-width="1.4"/>
<rect x="69.60" y="314.00" width="7.80" height="8.00" fill="#fff" stroke="#000" stroke-width="1" />
<path d="M71.40 318 H75.60" stroke="#000" stroke-width="1.4"/>
<path d="M73.50 315.5 V320.5" stroke="#000" stroke-width="1.4"/>
<rect x="83.20" y="314.00" width="8.80" height="8.00" fill="#fff" stroke="#000" stroke-width="1" />
<path d="M85.00 318 H90.20" stroke="#000" stroke-width="1.4"/>
<polygon points="166.00,254.00 167.50,262.00 168.40,271.50 169.60,262.00 171.00,254.00" fill="#fff" stroke="#000" stroke-width="2" stroke-linejoin="miter" shape-rendering="geometricPrecision"/>
<rect x="152.50" y="237.30" width="32.00" height="18.30" fill="#000" rx="3.2" shape-rendering="geometricPrecision"/>
<rect x="154.10" y="238.90" width="28.20" height="13.90" fill="#fff" rx="2.0" shape-rendering="geometricPrecision"/>
<text transform="translate(167.50 250.47) scale(1 1.2)" font-size="12" text-anchor="middle" letter-spacing="1" fill="#000" >J31</text>
<rect x="162.80" y="273.00" width="12.40" height="4.70" fill="#fff" stroke="#000" stroke-width="1" />
<rect x="167.70" y="274.20" width="2.80" height="3.00" fill="#000" />
<rect x="171.30" y="274.20" width="2.80" height="3.00" fill="#000" />
<text transform="translate(152.70 282.20) scale(1 1.05)" font-size="10.5" text-anchor="middle" letter-spacing="0" fill="#000" >2</text>
<rect x="150.70" y="285.90" width="29.60" height="11.20" fill="#fff" stroke="#000" stroke-width="1" />
<rect x="152.20" y="287.40" width="4.44" height="3.55" fill="#000" shape-rendering="geometricPrecision"/>
<rect x="157.74" y="287.40" width="4.44" height="3.55" fill="#000" shape-rendering="geometricPrecision"/>
<rect x="163.28" y="287.40" width="4.44" height="3.55" fill="#000" shape-rendering="geometricPrecision"/>
<rect x="168.82" y="287.40" width="4.44" height="3.55" fill="#000" shape-rendering="geometricPrecision"/>
<rect x="174.36" y="287.40" width="4.44" height="3.55" fill="#000" shape-rendering="geometricPrecision"/>
<rect x="152.70" y="292.55" width="3.44" height="2.55" fill="#fff" stroke="#000" stroke-width="0.9" />
<rect x="157.74" y="292.05" width="4.44" height="3.55" fill="#000" shape-rendering="geometricPrecision"/>
<rect x="163.28" y="292.05" width="4.44" height="3.55" fill="#000" shape-rendering="geometricPrecision"/>
<rect x="168.82" y="292.05" width="4.44" height="3.55" fill="#000" shape-rendering="geometricPrecision"/>
<rect x="174.36" y="292.05" width="4.44" height="3.55" fill="#000" shape-rendering="geometricPrecision"/>
<polygon points="190.00,309.00 187.50,303.00 182.40,298.50 192.00,303.00 198.00,307.00" fill="#fff" stroke="#000" stroke-width="2" stroke-linejoin="miter" shape-rendering="geometricPrecision"/>
<rect x="187.80" y="305.20" width="34.90" height="18.30" fill="#000" rx="3.2" shape-rendering="geometricPrecision"/>
<rect x="189.40" y="306.80" width="31.10" height="13.90" fill="#fff" rx="2.0" shape-rendering="geometricPrecision"/>
<text transform="translate(204.25 318.37) scale(1 1.2)" font-size="12" text-anchor="middle" letter-spacing="1" fill="#000" >J30</text>
<path d="M177.50 255.50 V330.00" fill="none" stroke="#000" stroke-width="3" stroke-dasharray="6 4"/>
<path d="M159.1 336.6 H219.1 L222.1 339.6 V399.4 L219.1 402.4 H159.1 L156.1 399.4 V339.6 Z" fill="#000"/>
<rect x="162.70" y="336.40" width="1.00" height="2.80" fill="#fff" />
<rect x="165.34" y="399.80" width="1.00" height="2.80" fill="#fff" />
<rect x="165.00" y="336.40" width="1.00" height="2.80" fill="#fff" />
<rect x="167.64" y="399.80" width="1.00" height="2.80" fill="#fff" />
<rect x="167.30" y="336.40" width="1.00" height="2.80" fill="#fff" />
<rect x="169.94" y="399.80" width="1.00" height="2.80" fill="#fff" />
<rect x="178.54" y="336.40" width="1.00" height="2.80" fill="#fff" />
<rect x="181.18" y="399.80" width="1.00" height="2.80" fill="#fff" />
<rect x="180.84" y="336.40" width="1.00" height="2.80" fill="#fff" />
<rect x="183.48" y="399.80" width="1.00" height="2.80" fill="#fff" />
<rect x="183.14" y="336.40" width="1.00" height="2.80" fill="#fff" />
<rect x="185.78" y="399.80" width="1.00" height="2.80" fill="#fff" />
<rect x="195.70" y="336.40" width="1.00" height="2.80" fill="#fff" />
<rect x="198.34" y="399.80" width="1.00" height="2.80" fill="#fff" />
<rect x="198.00" y="336.40" width="1.00" height="2.80" fill="#fff" />
<rect x="200.64" y="399.80" width="1.00" height="2.80" fill="#fff" />
<rect x="200.30" y="336.40" width="1.00" height="2.80" fill="#fff" />
<rect x="202.94" y="399.80" width="1.00" height="2.80" fill="#fff" />
<rect x="212.86" y="336.40" width="1.00" height="2.80" fill="#fff" />
<rect x="215.50" y="399.80" width="1.00" height="2.80" fill="#fff" />
<rect x="215.16" y="336.40" width="1.00" height="2.80" fill="#fff" />
<rect x="217.80" y="399.80" width="1.00" height="2.80" fill="#fff" />
<rect x="217.46" y="336.40" width="1.00" height="2.80" fill="#fff" />
<rect x="220.10" y="399.80" width="1.00" height="2.80" fill="#fff" />
<rect x="155.90" y="345.15" width="3.00" height="1.00" fill="#fff" />
<rect x="219.30" y="349.10" width="3.00" height="1.00" fill="#fff" />
<rect x="155.90" y="347.45" width="3.00" height="1.00" fill="#fff" />
<rect x="219.30" y="351.40" width="3.00" height="1.00" fill="#fff" />
<rect x="155.90" y="349.75" width="3.00" height="1.00" fill="#fff" />
<rect x="219.30" y="353.70" width="3.00" height="1.00" fill="#fff" />
<rect x="155.90" y="366.21" width="3.00" height="1.00" fill="#fff" />
<rect x="219.30" y="370.16" width="3.00" height="1.00" fill="#fff" />
<rect x="155.90" y="368.51" width="3.00" height="1.00" fill="#fff" />
<rect x="219.30" y="372.46" width="3.00" height="1.00" fill="#fff" />
<rect x="155.90" y="370.81" width="3.00" height="1.00" fill="#fff" />
<rect x="219.30" y="374.76" width="3.00" height="1.00" fill="#fff" />
<rect x="155.90" y="383.98" width="3.00" height="1.00" fill="#fff" />
<rect x="219.30" y="387.92" width="3.00" height="1.00" fill="#fff" />
<rect x="155.90" y="386.28" width="3.00" height="1.00" fill="#fff" />
<rect x="219.30" y="390.22" width="3.00" height="1.00" fill="#fff" />
<rect x="155.90" y="388.58" width="3.00" height="1.00" fill="#fff" />
<rect x="219.30" y="392.52" width="3.00" height="1.00" fill="#fff" />
<rect x="174.80" y="362.80" width="28.40" height="14.20" fill="#fff" />
<text transform="translate(187.30 373.90) scale(1 1.2)" font-size="12" text-anchor="middle" letter-spacing="0.5" fill="#000" >U77</text>
<path d="M273 296 H333 L336 299 V359 L333 362 H273 L270 359 V299 Z" fill="#000"/>
<rect x="276.60" y="295.80" width="1.00" height="2.80" fill="#fff" />
<rect x="279.24" y="359.40" width="1.00" height="2.80" fill="#fff" />
<rect x="278.90" y="295.80" width="1.00" height="2.80" fill="#fff" />
<rect x="281.54" y="359.40" width="1.00" height="2.80" fill="#fff" />
<rect x="281.20" y="295.80" width="1.00" height="2.80" fill="#fff" />
<rect x="283.84" y="359.40" width="1.00" height="2.80" fill="#fff" />
<rect x="292.44" y="295.80" width="1.00" height="2.80" fill="#fff" />
<rect x="295.08" y="359.40" width="1.00" height="2.80" fill="#fff" />
<rect x="294.74" y="295.80" width="1.00" height="2.80" fill="#fff" />
<rect x="297.38" y="359.40" width="1.00" height="2.80" fill="#fff" />
<rect x="297.04" y="295.80" width="1.00" height="2.80" fill="#fff" />
<rect x="299.68" y="359.40" width="1.00" height="2.80" fill="#fff" />
<rect x="309.60" y="295.80" width="1.00" height="2.80" fill="#fff" />
<rect x="312.24" y="359.40" width="1.00" height="2.80" fill="#fff" />
<rect x="311.90" y="295.80" width="1.00" height="2.80" fill="#fff" />
<rect x="314.54" y="359.40" width="1.00" height="2.80" fill="#fff" />
<rect x="314.20" y="295.80" width="1.00" height="2.80" fill="#fff" />
<rect x="316.84" y="359.40" width="1.00" height="2.80" fill="#fff" />
<rect x="326.76" y="295.80" width="1.00" height="2.80" fill="#fff" />
<rect x="329.40" y="359.40" width="1.00" height="2.80" fill="#fff" />
<rect x="329.06" y="295.80" width="1.00" height="2.80" fill="#fff" />
<rect x="331.70" y="359.40" width="1.00" height="2.80" fill="#fff" />
<rect x="331.36" y="295.80" width="1.00" height="2.80" fill="#fff" />
<rect x="334.00" y="359.40" width="1.00" height="2.80" fill="#fff" />
<rect x="269.80" y="304.58" width="3.00" height="1.00" fill="#fff" />
<rect x="333.20" y="308.54" width="3.00" height="1.00" fill="#fff" />
<rect x="269.80" y="306.88" width="3.00" height="1.00" fill="#fff" />
<rect x="333.20" y="310.84" width="3.00" height="1.00" fill="#fff" />
<rect x="269.80" y="309.18" width="3.00" height="1.00" fill="#fff" />
<rect x="333.20" y="313.14" width="3.00" height="1.00" fill="#fff" />
<rect x="269.80" y="325.70" width="3.00" height="1.00" fill="#fff" />
<rect x="333.20" y="329.66" width="3.00" height="1.00" fill="#fff" />
<rect x="269.80" y="328.00" width="3.00" height="1.00" fill="#fff" />
<rect x="333.20" y="331.96" width="3.00" height="1.00" fill="#fff" />
<rect x="269.80" y="330.30" width="3.00" height="1.00" fill="#fff" />
<rect x="333.20" y="334.26" width="3.00" height="1.00" fill="#fff" />
<rect x="269.80" y="343.52" width="3.00" height="1.00" fill="#fff" />
<rect x="333.20" y="347.48" width="3.00" height="1.00" fill="#fff" />
<rect x="269.80" y="345.82" width="3.00" height="1.00" fill="#fff" />
<rect x="333.20" y="349.78" width="3.00" height="1.00" fill="#fff" />
<rect x="269.80" y="348.12" width="3.00" height="1.00" fill="#fff" />
<rect x="333.20" y="352.08" width="3.00" height="1.00" fill="#fff" />
<rect x="251.00" y="428.00" width="42.00" height="42.00" fill="#000" rx="4" />
<rect x="301.60" y="63.50" width="17.20" height="224.50" fill="#fff" stroke="#000" stroke-width="1" />
<path d="M307.83 63 V71 M307.83 281.5 V288.5" stroke="#000" stroke-width="1"/>
<path d="M314.57 63 V71 M314.57 281.5 V288.5" stroke="#000" stroke-width="1"/>
<rect x="301.10" y="71.00" width="18.20" height="3.00" fill="#000" />
<rect x="301.10" y="278.50" width="18.20" height="3.00" fill="#000" />
<path d="M303.60 75.5 H309.60 V78 H316.60 M303.60 75.5 V80.5 H308.10 V84 H316.60 V74" stroke="#000" stroke-width="1.3" fill="none"/>
<path d="M303.60 276.5 H308.10 V273.0 H309.60 M303.60 276.5 V271.5 H308.10 V268.0 H316.60 V278.5" stroke="#000" stroke-width="1.3" fill="none"/>
<rect x="303.30" y="88.80" width="14.60" height="174.50" fill="#000" />
<rect x="304.30" y="93.00" width="4.40" height="1.40" fill="#fff" />
<rect x="310.10" y="92.00" width="5.80" height="3.90" fill="#fff" />
<rect x="317.30" y="92.80" width="1.00" height="2.00" fill="#fff" />
<rect x="304.30" y="98.91" width="4.40" height="1.40" fill="#fff" />
<rect x="310.10" y="97.91" width="5.80" height="3.90" fill="#fff" />
<rect x="317.30" y="98.71" width="1.00" height="2.00" fill="#fff" />
<rect x="304.30" y="104.83" width="4.40" height="1.40" fill="#fff" />
<rect x="310.10" y="103.83" width="5.80" height="3.90" fill="#fff" />
<rect x="317.30" y="104.63" width="1.00" height="2.00" fill="#fff" />
<rect x="304.30" y="110.74" width="4.40" height="1.40" fill="#fff" />
<rect x="310.10" y="109.74" width="5.80" height="3.90" fill="#fff" />
<rect x="317.30" y="110.54" width="1.00" height="2.00" fill="#fff" />
<rect x="304.30" y="116.66" width="4.40" height="1.40" fill="#fff" />
<rect x="310.10" y="115.66" width="5.80" height="3.90" fill="#fff" />
<rect x="317.30" y="116.46" width="1.00" height="2.00" fill="#fff" />
<rect x="304.30" y="122.57" width="4.40" height="1.40" fill="#fff" />
<rect x="310.10" y="121.57" width="5.80" height="3.90" fill="#fff" />
<rect x="317.30" y="122.37" width="1.00" height="2.00" fill="#fff" />
<rect x="304.30" y="128.48" width="4.40" height="1.40" fill="#fff" />
<rect x="310.10" y="127.48" width="5.80" height="3.90" fill="#fff" />
<rect x="317.30" y="128.28" width="1.00" height="2.00" fill="#fff" />
<rect x="304.30" y="134.40" width="4.40" height="1.40" fill="#fff" />
<rect x="310.10" y="133.40" width="5.80" height="3.90" fill="#fff" />
<rect x="317.30" y="134.20" width="1.00" height="2.00" fill="#fff" />
<rect x="304.30" y="140.31" width="4.40" height="1.40" fill="#fff" />
<rect x="310.10" y="139.31" width="5.80" height="3.90" fill="#fff" />
<rect x="317.30" y="140.11" width="1.00" height="2.00" fill="#fff" />
<rect x="304.30" y="146.22" width="4.40" height="1.40" fill="#fff" />
<rect x="310.10" y="145.22" width="5.80" height="3.90" fill="#fff" />
<rect x="317.30" y="146.02" width="1.00" height="2.00" fill="#fff" />
<rect x="304.30" y="152.14" width="4.40" height="1.40" fill="#fff" />
<rect x="310.10" y="151.14" width="5.80" height="3.90" fill="#fff" />
<rect x="317.30" y="151.94" width="1.00" height="2.00" fill="#fff" />
<rect x="304.30" y="158.05" width="4.40" height="1.40" fill="#fff" />
<rect x="310.10" y="157.05" width="5.80" height="3.90" fill="#fff" />
<rect x="317.30" y="157.85" width="1.00" height="2.00" fill="#fff" />
<rect x="304.30" y="163.97" width="4.40" height="1.40" fill="#fff" />
<rect x="310.10" y="162.97" width="5.80" height="3.90" fill="#fff" />
<rect x="317.30" y="163.77" width="1.00" height="2.00" fill="#fff" />
<rect x="304.30" y="169.88" width="4.40" height="1.40" fill="#fff" />
<rect x="310.10" y="168.88" width="5.80" height="3.90" fill="#fff" />
<rect x="317.30" y="169.68" width="1.00" height="2.00" fill="#fff" />
<rect x="304.30" y="175.79" width="4.40" height="1.40" fill="#fff" />
<rect x="310.10" y="174.79" width="5.80" height="3.90" fill="#fff" />
<rect x="317.30" y="175.59" width="1.00" height="2.00" fill="#fff" />
<rect x="304.30" y="181.71" width="4.40" height="1.40" fill="#fff" />
<rect x="310.10" y="180.71" width="5.80" height="3.90" fill="#fff" />
<rect x="317.30" y="181.51" width="1.00" height="2.00" fill="#fff" />
<rect x="304.30" y="187.62" width="4.40" height="1.40" fill="#fff" />
<rect x="310.10" y="186.62" width="5.80" height="3.90" fill="#fff" />
<rect x="317.30" y="187.42" width="1.00" height="2.00" fill="#fff" />
<rect x="304.30" y="193.53" width="4.40" height="1.40" fill="#fff" />
<rect x="310.10" y="192.53" width="5.80" height="3.90" fill="#fff" />
<rect x="317.30" y="193.33" width="1.00" height="2.00" fill="#fff" />
<rect x="304.30" y="199.45" width="4.40" height="1.40" fill="#fff" />
<rect x="310.10" y="198.45" width="5.80" height="3.90" fill="#fff" />
<rect x="317.30" y="199.25" width="1.00" height="2.00" fill="#fff" />
<rect x="304.30" y="205.36" width="4.40" height="1.40" fill="#fff" />
<rect x="310.10" y="204.36" width="5.80" height="3.90" fill="#fff" />
<rect x="317.30" y="205.16" width="1.00" height="2.00" fill="#fff" />
<rect x="304.30" y="211.28" width="4.40" height="1.40" fill="#fff" />
<rect x="310.10" y="210.28" width="5.80" height="3.90" fill="#fff" />
<rect x="317.30" y="211.08" width="1.00" height="2.00" fill="#fff" />
<rect x="304.30" y="217.19" width="4.40" height="1.40" fill="#fff" />
<rect x="310.10" y="216.19" width="5.80" height="3.90" fill="#fff" />
<rect x="317.30" y="216.99" width="1.00" height="2.00" fill="#fff" />
<rect x="304.30" y="223.10" width="4.40" height="1.40" fill="#fff" />
<rect x="310.10" y="222.10" width="5.80" height="3.90" fill="#fff" />
<rect x="317.30" y="222.90" width="1.00" height="2.00" fill="#fff" />
<rect x="304.30" y="229.02" width="4.40" height="1.40" fill="#fff" />
<rect x="310.10" y="228.02" width="5.80" height="3.90" fill="#fff" />
<rect x="317.30" y="228.82" width="1.00" height="2.00" fill="#fff" />
<rect x="304.30" y="234.93" width="4.40" height="1.40" fill="#fff" />
<rect x="310.10" y="233.93" width="5.80" height="3.90" fill="#fff" />
<rect x="317.30" y="234.73" width="1.00" height="2.00" fill="#fff" />
<rect x="304.30" y="240.84" width="4.40" height="1.40" fill="#fff" />
<rect x="310.10" y="239.84" width="5.80" height="3.90" fill="#fff" />
<rect x="317.30" y="240.64" width="1.00" height="2.00" fill="#fff" />
<rect x="304.30" y="246.76" width="4.40" height="1.40" fill="#fff" />
<rect x="310.10" y="245.76" width="5.80" height="3.90" fill="#fff" />
<rect x="317.30" y="246.56" width="1.00" height="2.00" fill="#fff" />
<rect x="304.30" y="252.67" width="4.40" height="1.40" fill="#fff" />
<rect x="310.10" y="251.67" width="5.80" height="3.90" fill="#fff" />
<rect x="317.30" y="252.47" width="1.00" height="2.00" fill="#fff" />
<rect x="304.30" y="258.59" width="4.40" height="1.40" fill="#fff" />
<rect x="310.10" y="257.59" width="5.80" height="3.90" fill="#fff" />
<rect x="317.30" y="258.39" width="1.00" height="2.00" fill="#fff" />
<rect x="320.50" y="63.50" width="18.00" height="224.50" fill="#fff" stroke="#000" stroke-width="1" />
<path d="M327.03 63 V71 M327.03 281.5 V288.5" stroke="#000" stroke-width="1"/>
<path d="M334.06 63 V71 M334.06 281.5 V288.5" stroke="#000" stroke-width="1"/>
<rect x="320.00" y="71.00" width="19.00" height="3.00" fill="#000" />
<rect x="320.00" y="278.50" width="19.00" height="3.00" fill="#000" />
<path d="M322.50 75.5 H328.50 V78 H335.50 M322.50 75.5 V80.5 H327.00 V84 H335.50 V74" stroke="#000" stroke-width="1.3" fill="none"/>
<path d="M322.50 276.5 H327.00 V273.0 H328.50 M322.50 276.5 V271.5 H327.00 V268.0 H335.50 V278.5" stroke="#000" stroke-width="1.3" fill="none"/>
<rect x="322.20" y="88.80" width="14.60" height="174.50" fill="#000" />
<rect x="323.20" y="93.00" width="4.40" height="1.40" fill="#fff" />
<rect x="329.00" y="92.00" width="5.80" height="3.90" fill="#fff" />
<rect x="336.20" y="92.80" width="1.00" height="2.00" fill="#fff" />
<rect x="323.20" y="98.91" width="4.40" height="1.40" fill="#fff" />
<rect x="329.00" y="97.91" width="5.80" height="3.90" fill="#fff" />
<rect x="336.20" y="98.71" width="1.00" height="2.00" fill="#fff" />
<rect x="323.20" y="104.83" width="4.40" height="1.40" fill="#fff" />
<rect x="329.00" y="103.83" width="5.80" height="3.90" fill="#fff" />
<rect x="336.20" y="104.63" width="1.00" height="2.00" fill="#fff" />
<rect x="323.20" y="110.74" width="4.40" height="1.40" fill="#fff" />
<rect x="329.00" y="109.74" width="5.80" height="3.90" fill="#fff" />
<rect x="336.20" y="110.54" width="1.00" height="2.00" fill="#fff" />
<rect x="323.20" y="116.66" width="4.40" height="1.40" fill="#fff" />
<rect x="329.00" y="115.66" width="5.80" height="3.90" fill="#fff" />
<rect x="336.20" y="116.46" width="1.00" height="2.00" fill="#fff" />
<rect x="323.20" y="122.57" width="4.40" height="1.40" fill="#fff" />
<rect x="329.00" y="121.57" width="5.80" height="3.90" fill="#fff" />
<rect x="336.20" y="122.37" width="1.00" height="2.00" fill="#fff" />
<rect x="323.20" y="128.48" width="4.40" height="1.40" fill="#fff" />
<rect x="329.00" y="127.48" width="5.80" height="3.90" fill="#fff" />
<rect x="336.20" y="128.28" width="1.00" height="2.00" fill="#fff" />
<rect x="323.20" y="134.40" width="4.40" height="1.40" fill="#fff" />
<rect x="329.00" y="133.40" width="5.80" height="3.90" fill="#fff" />
<rect x="336.20" y="134.20" width="1.00" height="2.00" fill="#fff" />
<rect x="323.20" y="140.31" width="4.40" height="1.40" fill="#fff" />
<rect x="329.00" y="139.31" width="5.80" height="3.90" fill="#fff" />
<rect x="336.20" y="140.11" width="1.00" height="2.00" fill="#fff" />
<rect x="323.20" y="146.22" width="4.40" height="1.40" fill="#fff" />
<rect x="329.00" y="145.22" width="5.80" height="3.90" fill="#fff" />
<rect x="336.20" y="146.02" width="1.00" height="2.00" fill="#fff" />
<rect x="323.20" y="152.14" width="4.40" height="1.40" fill="#fff" />
<rect x="329.00" y="151.14" width="5.80" height="3.90" fill="#fff" />
<rect x="336.20" y="151.94" width="1.00" height="2.00" fill="#fff" />
<rect x="323.20" y="158.05" width="4.40" height="1.40" fill="#fff" />
<rect x="329.00" y="157.05" width="5.80" height="3.90" fill="#fff" />
<rect x="336.20" y="157.85" width="1.00" height="2.00" fill="#fff" />
<rect x="323.20" y="163.97" width="4.40" height="1.40" fill="#fff" />
<rect x="329.00" y="162.97" width="5.80" height="3.90" fill="#fff" />
<rect x="336.20" y="163.77" width="1.00" height="2.00" fill="#fff" />
<rect x="323.20" y="169.88" width="4.40" height="1.40" fill="#fff" />
<rect x="329.00" y="168.88" width="5.80" height="3.90" fill="#fff" />
<rect x="336.20" y="169.68" width="1.00" height="2.00" fill="#fff" />
<rect x="323.20" y="175.79" width="4.40" height="1.40" fill="#fff" />
<rect x="329.00" y="174.79" width="5.80" height="3.90" fill="#fff" />
<rect x="336.20" y="175.59" width="1.00" height="2.00" fill="#fff" />
<rect x="323.20" y="181.71" width="4.40" height="1.40" fill="#fff" />
<rect x="329.00" y="180.71" width="5.80" height="3.90" fill="#fff" />
<rect x="336.20" y="181.51" width="1.00" height="2.00" fill="#fff" />
<rect x="323.20" y="187.62" width="4.40" height="1.40" fill="#fff" />
<rect x="329.00" y="186.62" width="5.80" height="3.90" fill="#fff" />
<rect x="336.20" y="187.42" width="1.00" height="2.00" fill="#fff" />
<rect x="323.20" y="193.53" width="4.40" height="1.40" fill="#fff" />
<rect x="329.00" y="192.53" width="5.80" height="3.90" fill="#fff" />
<rect x="336.20" y="193.33" width="1.00" height="2.00" fill="#fff" />
<rect x="323.20" y="199.45" width="4.40" height="1.40" fill="#fff" />
<rect x="329.00" y="198.45" width="5.80" height="3.90" fill="#fff" />
<rect x="336.20" y="199.25" width="1.00" height="2.00" fill="#fff" />
<rect x="323.20" y="205.36" width="4.40" height="1.40" fill="#fff" />
<rect x="329.00" y="204.36" width="5.80" height="3.90" fill="#fff" />
<rect x="336.20" y="205.16" width="1.00" height="2.00" fill="#fff" />
<rect x="323.20" y="211.28" width="4.40" height="1.40" fill="#fff" />
<rect x="329.00" y="210.28" width="5.80" height="3.90" fill="#fff" />
<rect x="336.20" y="211.08" width="1.00" height="2.00" fill="#fff" />
<rect x="323.20" y="217.19" width="4.40" height="1.40" fill="#fff" />
<rect x="329.00" y="216.19" width="5.80" height="3.90" fill="#fff" />
<rect x="336.20" y="216.99" width="1.00" height="2.00" fill="#fff" />
<rect x="323.20" y="223.10" width="4.40" height="1.40" fill="#fff" />
<rect x="329.00" y="222.10" width="5.80" height="3.90" fill="#fff" />
<rect x="336.20" y="222.90" width="1.00" height="2.00" fill="#fff" />
<rect x="323.20" y="229.02" width="4.40" height="1.40" fill="#fff" />
<rect x="329.00" y="228.02" width="5.80" height="3.90" fill="#fff" />
<rect x="336.20" y="228.82" width="1.00" height="2.00" fill="#fff" />
<rect x="323.20" y="234.93" width="4.40" height="1.40" fill="#fff" />
<rect x="329.00" y="233.93" width="5.80" height="3.90" fill="#fff" />
<rect x="336.20" y="234.73" width="1.00" height="2.00" fill="#fff" />
<rect x="323.20" y="240.84" width="4.40" height="1.40" fill="#fff" />
<rect x="329.00" y="239.84" width="5.80" height="3.90" fill="#fff" />
<rect x="336.20" y="240.64" width="1.00" height="2.00" fill="#fff" />
<rect x="323.20" y="246.76" width="4.40" height="1.40" fill="#fff" />
<rect x="329.00" y="245.76" width="5.80" height="3.90" fill="#fff" />
<rect x="336.20" y="246.56" width="1.00" height="2.00" fill="#fff" />
<rect x="323.20" y="252.67" width="4.40" height="1.40" fill="#fff" />
<rect x="329.00" y="251.67" width="5.80" height="3.90" fill="#fff" />
<rect x="336.20" y="252.47" width="1.00" height="2.00" fill="#fff" />
<rect x="323.20" y="258.59" width="4.40" height="1.40" fill="#fff" />
<rect x="329.00" y="257.59" width="5.80" height="3.90" fill="#fff" />
<rect x="336.20" y="258.39" width="1.00" height="2.00" fill="#fff" />
<rect x="340.40" y="63.50" width="17.30" height="224.50" fill="#fff" stroke="#000" stroke-width="1" />
<path d="M346.67 63 V71 M346.67 281.5 V288.5" stroke="#000" stroke-width="1"/>
<path d="M353.44 63 V71 M353.44 281.5 V288.5" stroke="#000" stroke-width="1"/>
<rect x="339.90" y="71.00" width="18.30" height="3.00" fill="#000" />
<rect x="339.90" y="278.50" width="18.30" height="3.00" fill="#000" />
<path d="M342.40 75.5 H348.40 V78 H355.40 M342.40 75.5 V80.5 H346.90 V84 H355.40 V74" stroke="#000" stroke-width="1.3" fill="none"/>
<path d="M342.40 276.5 H346.90 V273.0 H348.40 M342.40 276.5 V271.5 H346.90 V268.0 H355.40 V278.5" stroke="#000" stroke-width="1.3" fill="none"/>
<rect x="342.10" y="88.80" width="14.60" height="174.50" fill="#000" />
<rect x="343.10" y="93.00" width="4.40" height="1.40" fill="#fff" />
<rect x="348.90" y="92.00" width="5.80" height="3.90" fill="#fff" />
<rect x="356.10" y="92.80" width="1.00" height="2.00" fill="#fff" />
<rect x="343.10" y="98.91" width="4.40" height="1.40" fill="#fff" />
<rect x="348.90" y="97.91" width="5.80" height="3.90" fill="#fff" />
<rect x="356.10" y="98.71" width="1.00" height="2.00" fill="#fff" />
<rect x="343.10" y="104.83" width="4.40" height="1.40" fill="#fff" />
<rect x="348.90" y="103.83" width="5.80" height="3.90" fill="#fff" />
<rect x="356.10" y="104.63" width="1.00" height="2.00" fill="#fff" />
<rect x="343.10" y="110.74" width="4.40" height="1.40" fill="#fff" />
<rect x="348.90" y="109.74" width="5.80" height="3.90" fill="#fff" />
<rect x="356.10" y="110.54" width="1.00" height="2.00" fill="#fff" />
<rect x="343.10" y="116.66" width="4.40" height="1.40" fill="#fff" />
<rect x="348.90" y="115.66" width="5.80" height="3.90" fill="#fff" />
<rect x="356.10" y="116.46" width="1.00" height="2.00" fill="#fff" />
<rect x="343.10" y="122.57" width="4.40" height="1.40" fill="#fff" />
<rect x="348.90" y="121.57" width="5.80" height="3.90" fill="#fff" />
<rect x="356.10" y="122.37" width="1.00" height="2.00" fill="#fff" />
<rect x="343.10" y="128.48" width="4.40" height="1.40" fill="#fff" />
<rect x="348.90" y="127.48" width="5.80" height="3.90" fill="#fff" />
<rect x="356.10" y="128.28" width="1.00" height="2.00" fill="#fff" />
<rect x="343.10" y="134.40" width="4.40" height="1.40" fill="#fff" />
<rect x="348.90" y="133.40" width="5.80" height="3.90" fill="#fff" />
<rect x="356.10" y="134.20" width="1.00" height="2.00" fill="#fff" />
<rect x="343.10" y="140.31" width="4.40" height="1.40" fill="#fff" />
<rect x="348.90" y="139.31" width="5.80" height="3.90" fill="#fff" />
<rect x="356.10" y="140.11" width="1.00" height="2.00" fill="#fff" />
<rect x="343.10" y="146.22" width="4.40" height="1.40" fill="#fff" />
<rect x="348.90" y="145.22" width="5.80" height="3.90" fill="#fff" />
<rect x="356.10" y="146.02" width="1.00" height="2.00" fill="#fff" />
<rect x="343.10" y="152.14" width="4.40" height="1.40" fill="#fff" />
<rect x="348.90" y="151.14" width="5.80" height="3.90" fill="#fff" />
<rect x="356.10" y="151.94" width="1.00" height="2.00" fill="#fff" />
<rect x="343.10" y="158.05" width="4.40" height="1.40" fill="#fff" />
<rect x="348.90" y="157.05" width="5.80" height="3.90" fill="#fff" />
<rect x="356.10" y="157.85" width="1.00" height="2.00" fill="#fff" />
<rect x="343.10" y="163.97" width="4.40" height="1.40" fill="#fff" />
<rect x="348.90" y="162.97" width="5.80" height="3.90" fill="#fff" />
<rect x="356.10" y="163.77" width="1.00" height="2.00" fill="#fff" />
<rect x="343.10" y="169.88" width="4.40" height="1.40" fill="#fff" />
<rect x="348.90" y="168.88" width="5.80" height="3.90" fill="#fff" />
<rect x="356.10" y="169.68" width="1.00" height="2.00" fill="#fff" />
<rect x="343.10" y="175.79" width="4.40" height="1.40" fill="#fff" />
<rect x="348.90" y="174.79" width="5.80" height="3.90" fill="#fff" />
<rect x="356.10" y="175.59" width="1.00" height="2.00" fill="#fff" />
<rect x="343.10" y="181.71" width="4.40" height="1.40" fill="#fff" />
<rect x="348.90" y="180.71" width="5.80" height="3.90" fill="#fff" />
<rect x="356.10" y="181.51" width="1.00" height="2.00" fill="#fff" />
<rect x="343.10" y="187.62" width="4.40" height="1.40" fill="#fff" />
<rect x="348.90" y="186.62" width="5.80" height="3.90" fill="#fff" />
<rect x="356.10" y="187.42" width="1.00" height="2.00" fill="#fff" />
<rect x="343.10" y="193.53" width="4.40" height="1.40" fill="#fff" />
<rect x="348.90" y="192.53" width="5.80" height="3.90" fill="#fff" />
<rect x="356.10" y="193.33" width="1.00" height="2.00" fill="#fff" />
<rect x="343.10" y="199.45" width="4.40" height="1.40" fill="#fff" />
<rect x="348.90" y="198.45" width="5.80" height="3.90" fill="#fff" />
<rect x="356.10" y="199.25" width="1.00" height="2.00" fill="#fff" />
<rect x="343.10" y="205.36" width="4.40" height="1.40" fill="#fff" />
<rect x="348.90" y="204.36" width="5.80" height="3.90" fill="#fff" />
<rect x="356.10" y="205.16" width="1.00" height="2.00" fill="#fff" />
<rect x="343.10" y="211.28" width="4.40" height="1.40" fill="#fff" />
<rect x="348.90" y="210.28" width="5.80" height="3.90" fill="#fff" />
<rect x="356.10" y="211.08" width="1.00" height="2.00" fill="#fff" />
<rect x="343.10" y="217.19" width="4.40" height="1.40" fill="#fff" />
<rect x="348.90" y="216.19" width="5.80" height="3.90" fill="#fff" />
<rect x="356.10" y="216.99" width="1.00" height="2.00" fill="#fff" />
<rect x="343.10" y="223.10" width="4.40" height="1.40" fill="#fff" />
<rect x="348.90" y="222.10" width="5.80" height="3.90" fill="#fff" />
<rect x="356.10" y="222.90" width="1.00" height="2.00" fill="#fff" />
<rect x="343.10" y="229.02" width="4.40" height="1.40" fill="#fff" />
<rect x="348.90" y="228.02" width="5.80" height="3.90" fill="#fff" />
<rect x="356.10" y="228.82" width="1.00" height="2.00" fill="#fff" />
<rect x="343.10" y="234.93" width="4.40" height="1.40" fill="#fff" />
<rect x="348.90" y="233.93" width="5.80" height="3.90" fill="#fff" />
<rect x="356.10" y="234.73" width="1.00" height="2.00" fill="#fff" />
<rect x="343.10" y="240.84" width="4.40" height="1.40" fill="#fff" />
<rect x="348.90" y="239.84" width="5.80" height="3.90" fill="#fff" />
<rect x="356.10" y="240.64" width="1.00" height="2.00" fill="#fff" />
<rect x="343.10" y="246.76" width="4.40" height="1.40" fill="#fff" />
<rect x="348.90" y="245.76" width="5.80" height="3.90" fill="#fff" />
<rect x="356.10" y="246.56" width="1.00" height="2.00" fill="#fff" />
<rect x="343.10" y="252.67" width="4.40" height="1.40" fill="#fff" />
<rect x="348.90" y="251.67" width="5.80" height="3.90" fill="#fff" />
<rect x="356.10" y="252.47" width="1.00" height="2.00" fill="#fff" />
<rect x="343.10" y="258.59" width="4.40" height="1.40" fill="#fff" />
<rect x="348.90" y="257.59" width="5.80" height="3.90" fill="#fff" />
<rect x="356.10" y="258.39" width="1.00" height="2.00" fill="#fff" />
<rect x="359.90" y="63.50" width="17.60" height="224.50" fill="#fff" stroke="#000" stroke-width="1" />
<path d="M366.28 63 V71 M366.28 281.5 V288.5" stroke="#000" stroke-width="1"/>
<path d="M373.16 63 V71 M373.16 281.5 V288.5" stroke="#000" stroke-width="1"/>
<rect x="359.40" y="71.00" width="18.60" height="3.00" fill="#000" />
<rect x="359.40" y="278.50" width="18.60" height="3.00" fill="#000" />
<path d="M361.90 75.5 H367.90 V78 H374.90 M361.90 75.5 V80.5 H366.40 V84 H374.90 V74" stroke="#000" stroke-width="1.3" fill="none"/>
<path d="M361.90 276.5 H366.40 V273.0 H367.90 M361.90 276.5 V271.5 H366.40 V268.0 H374.90 V278.5" stroke="#000" stroke-width="1.3" fill="none"/>
<rect x="361.60" y="88.80" width="14.60" height="174.50" fill="#000" />
<rect x="362.60" y="93.00" width="4.40" height="1.40" fill="#fff" />
<rect x="368.40" y="92.00" width="5.80" height="3.90" fill="#fff" />
<rect x="375.60" y="92.80" width="1.00" height="2.00" fill="#fff" />
<rect x="362.60" y="98.91" width="4.40" height="1.40" fill="#fff" />
<rect x="368.40" y="97.91" width="5.80" height="3.90" fill="#fff" />
<rect x="375.60" y="98.71" width="1.00" height="2.00" fill="#fff" />
<rect x="362.60" y="104.83" width="4.40" height="1.40" fill="#fff" />
<rect x="368.40" y="103.83" width="5.80" height="3.90" fill="#fff" />
<rect x="375.60" y="104.63" width="1.00" height="2.00" fill="#fff" />
<rect x="362.60" y="110.74" width="4.40" height="1.40" fill="#fff" />
<rect x="368.40" y="109.74" width="5.80" height="3.90" fill="#fff" />
<rect x="375.60" y="110.54" width="1.00" height="2.00" fill="#fff" />
<rect x="362.60" y="116.66" width="4.40" height="1.40" fill="#fff" />
<rect x="368.40" y="115.66" width="5.80" height="3.90" fill="#fff" />
<rect x="375.60" y="116.46" width="1.00" height="2.00" fill="#fff" />
<rect x="362.60" y="122.57" width="4.40" height="1.40" fill="#fff" />
<rect x="368.40" y="121.57" width="5.80" height="3.90" fill="#fff" />
<rect x="375.60" y="122.37" width="1.00" height="2.00" fill="#fff" />
<rect x="362.60" y="128.48" width="4.40" height="1.40" fill="#fff" />
<rect x="368.40" y="127.48" width="5.80" height="3.90" fill="#fff" />
<rect x="375.60" y="128.28" width="1.00" height="2.00" fill="#fff" />
<rect x="362.60" y="134.40" width="4.40" height="1.40" fill="#fff" />
<rect x="368.40" y="133.40" width="5.80" height="3.90" fill="#fff" />
<rect x="375.60" y="134.20" width="1.00" height="2.00" fill="#fff" />
<rect x="362.60" y="140.31" width="4.40" height="1.40" fill="#fff" />
<rect x="368.40" y="139.31" width="5.80" height="3.90" fill="#fff" />
<rect x="375.60" y="140.11" width="1.00" height="2.00" fill="#fff" />
<rect x="362.60" y="146.22" width="4.40" height="1.40" fill="#fff" />
<rect x="368.40" y="145.22" width="5.80" height="3.90" fill="#fff" />
<rect x="375.60" y="146.02" width="1.00" height="2.00" fill="#fff" />
<rect x="362.60" y="152.14" width="4.40" height="1.40" fill="#fff" />
<rect x="368.40" y="151.14" width="5.80" height="3.90" fill="#fff" />
<rect x="375.60" y="151.94" width="1.00" height="2.00" fill="#fff" />
<rect x="362.60" y="158.05" width="4.40" height="1.40" fill="#fff" />
<rect x="368.40" y="157.05" width="5.80" height="3.90" fill="#fff" />
<rect x="375.60" y="157.85" width="1.00" height="2.00" fill="#fff" />
<rect x="362.60" y="163.97" width="4.40" height="1.40" fill="#fff" />
<rect x="368.40" y="162.97" width="5.80" height="3.90" fill="#fff" />
<rect x="375.60" y="163.77" width="1.00" height="2.00" fill="#fff" />
<rect x="362.60" y="169.88" width="4.40" height="1.40" fill="#fff" />
<rect x="368.40" y="168.88" width="5.80" height="3.90" fill="#fff" />
<rect x="375.60" y="169.68" width="1.00" height="2.00" fill="#fff" />
<rect x="362.60" y="175.79" width="4.40" height="1.40" fill="#fff" />
<rect x="368.40" y="174.79" width="5.80" height="3.90" fill="#fff" />
<rect x="375.60" y="175.59" width="1.00" height="2.00" fill="#fff" />
<rect x="362.60" y="181.71" width="4.40" height="1.40" fill="#fff" />
<rect x="368.40" y="180.71" width="5.80" height="3.90" fill="#fff" />
<rect x="375.60" y="181.51" width="1.00" height="2.00" fill="#fff" />
<rect x="362.60" y="187.62" width="4.40" height="1.40" fill="#fff" />
<rect x="368.40" y="186.62" width="5.80" height="3.90" fill="#fff" />
<rect x="375.60" y="187.42" width="1.00" height="2.00" fill="#fff" />
<rect x="362.60" y="193.53" width="4.40" height="1.40" fill="#fff" />
<rect x="368.40" y="192.53" width="5.80" height="3.90" fill="#fff" />
<rect x="375.60" y="193.33" width="1.00" height="2.00" fill="#fff" />
<rect x="362.60" y="199.45" width="4.40" height="1.40" fill="#fff" />
<rect x="368.40" y="198.45" width="5.80" height="3.90" fill="#fff" />
<rect x="375.60" y="199.25" width="1.00" height="2.00" fill="#fff" />
<rect x="362.60" y="205.36" width="4.40" height="1.40" fill="#fff" />
<rect x="368.40" y="204.36" width="5.80" height="3.90" fill="#fff" />
<rect x="375.60" y="205.16" width="1.00" height="2.00" fill="#fff" />
<rect x="362.60" y="211.28" width="4.40" height="1.40" fill="#fff" />
<rect x="368.40" y="210.28" width="5.80" height="3.90" fill="#fff" />
<rect x="375.60" y="211.08" width="1.00" height="2.00" fill="#fff" />
<rect x="362.60" y="217.19" width="4.40" height="1.40" fill="#fff" />
<rect x="368.40" y="216.19" width="5.80" height="3.90" fill="#fff" />
<rect x="375.60" y="216.99" width="1.00" height="2.00" fill="#fff" />
<rect x="362.60" y="223.10" width="4.40" height="1.40" fill="#fff" />
<rect x="368.40" y="222.10" width="5.80" height="3.90" fill="#fff" />
<rect x="375.60" y="222.90" width="1.00" height="2.00" fill="#fff" />
<rect x="362.60" y="229.02" width="4.40" height="1.40" fill="#fff" />
<rect x="368.40" y="228.02" width="5.80" height="3.90" fill="#fff" />
<rect x="375.60" y="228.82" width="1.00" height="2.00" fill="#fff" />
<rect x="362.60" y="234.93" width="4.40" height="1.40" fill="#fff" />
<rect x="368.40" y="233.93" width="5.80" height="3.90" fill="#fff" />
<rect x="375.60" y="234.73" width="1.00" height="2.00" fill="#fff" />
<rect x="362.60" y="240.84" width="4.40" height="1.40" fill="#fff" />
<rect x="368.40" y="239.84" width="5.80" height="3.90" fill="#fff" />
<rect x="375.60" y="240.64" width="1.00" height="2.00" fill="#fff" />
<rect x="362.60" y="246.76" width="4.40" height="1.40" fill="#fff" />
<rect x="368.40" y="245.76" width="5.80" height="3.90" fill="#fff" />
<rect x="375.60" y="246.56" width="1.00" height="2.00" fill="#fff" />
<rect x="362.60" y="252.67" width="4.40" height="1.40" fill="#fff" />
<rect x="368.40" y="251.67" width="5.80" height="3.90" fill="#fff" />
<rect x="375.60" y="252.47" width="1.00" height="2.00" fill="#fff" />
<rect x="362.60" y="258.59" width="4.40" height="1.40" fill="#fff" />
<rect x="368.40" y="257.59" width="5.80" height="3.90" fill="#fff" />
<rect x="375.60" y="258.39" width="1.00" height="2.00" fill="#fff" />
<rect x="311.60" y="168.60" width="56.40" height="14.80" fill="#000" />
<rect x="313.20" y="170.20" width="53.20" height="11.60" fill="#fff" />
<text transform="translate(340.30 180.42) scale(1 1.2)" font-size="12" text-anchor="middle" letter-spacing="1" fill="#000" >BANK 2</text>
<rect x="385.10" y="53.60" width="60.10" height="27.00" fill="#000" rx="1.5" />
<rect x="387.20" y="54.80" width="3.80" height="3.30" fill="#fff" />
<rect x="387.20" y="76.50" width="3.80" height="3.30" fill="#fff" />
<rect x="392.99" y="54.80" width="3.80" height="3.30" fill="#fff" />
<rect x="392.99" y="76.50" width="3.80" height="3.30" fill="#fff" />
<rect x="398.78" y="54.80" width="3.80" height="3.30" fill="#fff" />
<rect x="398.78" y="76.50" width="3.80" height="3.30" fill="#fff" />
<rect x="404.57" y="54.80" width="3.80" height="3.30" fill="#fff" />
<rect x="404.57" y="76.50" width="3.80" height="3.30" fill="#fff" />
<rect x="410.36" y="54.80" width="3.80" height="3.30" fill="#fff" />
<rect x="410.36" y="76.50" width="3.80" height="3.30" fill="#fff" />
<rect x="416.14" y="54.80" width="3.80" height="3.30" fill="#fff" />
<rect x="416.14" y="76.50" width="3.80" height="3.30" fill="#fff" />
<rect x="421.93" y="54.80" width="3.80" height="3.30" fill="#fff" />
<rect x="421.93" y="76.50" width="3.80" height="3.30" fill="#fff" />
<rect x="427.72" y="54.80" width="3.80" height="3.30" fill="#fff" />
<rect x="427.72" y="76.50" width="3.80" height="3.30" fill="#fff" />
<rect x="433.51" y="54.80" width="3.80" height="3.30" fill="#fff" />
<rect x="433.51" y="76.50" width="3.80" height="3.30" fill="#fff" />
<rect x="439.30" y="54.80" width="3.80" height="3.30" fill="#fff" />
<rect x="439.30" y="76.50" width="3.80" height="3.30" fill="#fff" />
<rect x="385.10" y="84.63" width="60.10" height="27.00" fill="#000" rx="1.5" />
<rect x="387.20" y="85.83" width="3.80" height="3.30" fill="#fff" />
<rect x="387.20" y="107.53" width="3.80" height="3.30" fill="#fff" />
<rect x="392.99" y="85.83" width="3.80" height="3.30" fill="#fff" />
<rect x="392.99" y="107.53" width="3.80" height="3.30" fill="#fff" />
<rect x="398.78" y="85.83" width="3.80" height="3.30" fill="#fff" />
<rect x="398.78" y="107.53" width="3.80" height="3.30" fill="#fff" />
<rect x="404.57" y="85.83" width="3.80" height="3.30" fill="#fff" />
<rect x="404.57" y="107.53" width="3.80" height="3.30" fill="#fff" />
<rect x="410.36" y="85.83" width="3.80" height="3.30" fill="#fff" />
<rect x="410.36" y="107.53" width="3.80" height="3.30" fill="#fff" />
<rect x="416.14" y="85.83" width="3.80" height="3.30" fill="#fff" />
<rect x="416.14" y="107.53" width="3.80" height="3.30" fill="#fff" />
<rect x="421.93" y="85.83" width="3.80" height="3.30" fill="#fff" />
<rect x="421.93" y="107.53" width="3.80" height="3.30" fill="#fff" />
<rect x="427.72" y="85.83" width="3.80" height="3.30" fill="#fff" />
<rect x="427.72" y="107.53" width="3.80" height="3.30" fill="#fff" />
<rect x="433.51" y="85.83" width="3.80" height="3.30" fill="#fff" />
<rect x="433.51" y="107.53" width="3.80" height="3.30" fill="#fff" />
<rect x="439.30" y="85.83" width="3.80" height="3.30" fill="#fff" />
<rect x="439.30" y="107.53" width="3.80" height="3.30" fill="#fff" />
<rect x="385.10" y="115.66" width="60.10" height="27.00" fill="#000" rx="1.5" />
<rect x="387.20" y="116.86" width="3.80" height="3.30" fill="#fff" />
<rect x="387.20" y="138.56" width="3.80" height="3.30" fill="#fff" />
<rect x="392.99" y="116.86" width="3.80" height="3.30" fill="#fff" />
<rect x="392.99" y="138.56" width="3.80" height="3.30" fill="#fff" />
<rect x="398.78" y="116.86" width="3.80" height="3.30" fill="#fff" />
<rect x="398.78" y="138.56" width="3.80" height="3.30" fill="#fff" />
<rect x="404.57" y="116.86" width="3.80" height="3.30" fill="#fff" />
<rect x="404.57" y="138.56" width="3.80" height="3.30" fill="#fff" />
<rect x="410.36" y="116.86" width="3.80" height="3.30" fill="#fff" />
<rect x="410.36" y="138.56" width="3.80" height="3.30" fill="#fff" />
<rect x="416.14" y="116.86" width="3.80" height="3.30" fill="#fff" />
<rect x="416.14" y="138.56" width="3.80" height="3.30" fill="#fff" />
<rect x="421.93" y="116.86" width="3.80" height="3.30" fill="#fff" />
<rect x="421.93" y="138.56" width="3.80" height="3.30" fill="#fff" />
<rect x="427.72" y="116.86" width="3.80" height="3.30" fill="#fff" />
<rect x="427.72" y="138.56" width="3.80" height="3.30" fill="#fff" />
<rect x="433.51" y="116.86" width="3.80" height="3.30" fill="#fff" />
<rect x="433.51" y="138.56" width="3.80" height="3.30" fill="#fff" />
<rect x="439.30" y="116.86" width="3.80" height="3.30" fill="#fff" />
<rect x="439.30" y="138.56" width="3.80" height="3.30" fill="#fff" />
<rect x="385.10" y="146.69" width="60.10" height="27.00" fill="#000" rx="1.5" />
<rect x="387.20" y="147.89" width="3.80" height="3.30" fill="#fff" />
<rect x="387.20" y="169.59" width="3.80" height="3.30" fill="#fff" />
<rect x="392.99" y="147.89" width="3.80" height="3.30" fill="#fff" />
<rect x="392.99" y="169.59" width="3.80" height="3.30" fill="#fff" />
<rect x="398.78" y="147.89" width="3.80" height="3.30" fill="#fff" />
<rect x="398.78" y="169.59" width="3.80" height="3.30" fill="#fff" />
<rect x="404.57" y="147.89" width="3.80" height="3.30" fill="#fff" />
<rect x="404.57" y="169.59" width="3.80" height="3.30" fill="#fff" />
<rect x="410.36" y="147.89" width="3.80" height="3.30" fill="#fff" />
<rect x="410.36" y="169.59" width="3.80" height="3.30" fill="#fff" />
<rect x="416.14" y="147.89" width="3.80" height="3.30" fill="#fff" />
<rect x="416.14" y="169.59" width="3.80" height="3.30" fill="#fff" />
<rect x="421.93" y="147.89" width="3.80" height="3.30" fill="#fff" />
<rect x="421.93" y="169.59" width="3.80" height="3.30" fill="#fff" />
<rect x="427.72" y="147.89" width="3.80" height="3.30" fill="#fff" />
<rect x="427.72" y="169.59" width="3.80" height="3.30" fill="#fff" />
<rect x="433.51" y="147.89" width="3.80" height="3.30" fill="#fff" />
<rect x="433.51" y="169.59" width="3.80" height="3.30" fill="#fff" />
<rect x="439.30" y="147.89" width="3.80" height="3.30" fill="#fff" />
<rect x="439.30" y="169.59" width="3.80" height="3.30" fill="#fff" />
<rect x="385.10" y="177.72" width="60.10" height="27.00" fill="#000" rx="1.5" />
<rect x="387.20" y="178.92" width="3.80" height="3.30" fill="#fff" />
<rect x="387.20" y="200.62" width="3.80" height="3.30" fill="#fff" />
<rect x="392.99" y="178.92" width="3.80" height="3.30" fill="#fff" />
<rect x="392.99" y="200.62" width="3.80" height="3.30" fill="#fff" />
<rect x="398.78" y="178.92" width="3.80" height="3.30" fill="#fff" />
<rect x="398.78" y="200.62" width="3.80" height="3.30" fill="#fff" />
<rect x="404.57" y="178.92" width="3.80" height="3.30" fill="#fff" />
<rect x="404.57" y="200.62" width="3.80" height="3.30" fill="#fff" />
<rect x="410.36" y="178.92" width="3.80" height="3.30" fill="#fff" />
<rect x="410.36" y="200.62" width="3.80" height="3.30" fill="#fff" />
<rect x="416.14" y="178.92" width="3.80" height="3.30" fill="#fff" />
<rect x="416.14" y="200.62" width="3.80" height="3.30" fill="#fff" />
<rect x="421.93" y="178.92" width="3.80" height="3.30" fill="#fff" />
<rect x="421.93" y="200.62" width="3.80" height="3.30" fill="#fff" />
<rect x="427.72" y="178.92" width="3.80" height="3.30" fill="#fff" />
<rect x="427.72" y="200.62" width="3.80" height="3.30" fill="#fff" />
<rect x="433.51" y="178.92" width="3.80" height="3.30" fill="#fff" />
<rect x="433.51" y="200.62" width="3.80" height="3.30" fill="#fff" />
<rect x="439.30" y="178.92" width="3.80" height="3.30" fill="#fff" />
<rect x="439.30" y="200.62" width="3.80" height="3.30" fill="#fff" />
<rect x="385.10" y="208.75" width="60.10" height="27.00" fill="#000" rx="1.5" />
<rect x="387.20" y="209.95" width="3.80" height="3.30" fill="#fff" />
<rect x="387.20" y="231.65" width="3.80" height="3.30" fill="#fff" />
<rect x="392.99" y="209.95" width="3.80" height="3.30" fill="#fff" />
<rect x="392.99" y="231.65" width="3.80" height="3.30" fill="#fff" />
<rect x="398.78" y="209.95" width="3.80" height="3.30" fill="#fff" />
<rect x="398.78" y="231.65" width="3.80" height="3.30" fill="#fff" />
<rect x="404.57" y="209.95" width="3.80" height="3.30" fill="#fff" />
<rect x="404.57" y="231.65" width="3.80" height="3.30" fill="#fff" />
<rect x="410.36" y="209.95" width="3.80" height="3.30" fill="#fff" />
<rect x="410.36" y="231.65" width="3.80" height="3.30" fill="#fff" />
<rect x="416.14" y="209.95" width="3.80" height="3.30" fill="#fff" />
<rect x="416.14" y="231.65" width="3.80" height="3.30" fill="#fff" />
<rect x="421.93" y="209.95" width="3.80" height="3.30" fill="#fff" />
<rect x="421.93" y="231.65" width="3.80" height="3.30" fill="#fff" />
<rect x="427.72" y="209.95" width="3.80" height="3.30" fill="#fff" />
<rect x="427.72" y="231.65" width="3.80" height="3.30" fill="#fff" />
<rect x="433.51" y="209.95" width="3.80" height="3.30" fill="#fff" />
<rect x="433.51" y="231.65" width="3.80" height="3.30" fill="#fff" />
<rect x="439.30" y="209.95" width="3.80" height="3.30" fill="#fff" />
<rect x="439.30" y="231.65" width="3.80" height="3.30" fill="#fff" />
<rect x="385.10" y="239.78" width="60.10" height="27.00" fill="#000" rx="1.5" />
<rect x="387.20" y="240.98" width="3.80" height="3.30" fill="#fff" />
<rect x="387.20" y="262.68" width="3.80" height="3.30" fill="#fff" />
<rect x="392.99" y="240.98" width="3.80" height="3.30" fill="#fff" />
<rect x="392.99" y="262.68" width="3.80" height="3.30" fill="#fff" />
<rect x="398.78" y="240.98" width="3.80" height="3.30" fill="#fff" />
<rect x="398.78" y="262.68" width="3.80" height="3.30" fill="#fff" />
<rect x="404.57" y="240.98" width="3.80" height="3.30" fill="#fff" />
<rect x="404.57" y="262.68" width="3.80" height="3.30" fill="#fff" />
<rect x="410.36" y="240.98" width="3.80" height="3.30" fill="#fff" />
<rect x="410.36" y="262.68" width="3.80" height="3.30" fill="#fff" />
<rect x="416.14" y="240.98" width="3.80" height="3.30" fill="#fff" />
<rect x="416.14" y="262.68" width="3.80" height="3.30" fill="#fff" />
<rect x="421.93" y="240.98" width="3.80" height="3.30" fill="#fff" />
<rect x="421.93" y="262.68" width="3.80" height="3.30" fill="#fff" />
<rect x="427.72" y="240.98" width="3.80" height="3.30" fill="#fff" />
<rect x="427.72" y="262.68" width="3.80" height="3.30" fill="#fff" />
<rect x="433.51" y="240.98" width="3.80" height="3.30" fill="#fff" />
<rect x="433.51" y="262.68" width="3.80" height="3.30" fill="#fff" />
<rect x="439.30" y="240.98" width="3.80" height="3.30" fill="#fff" />
<rect x="439.30" y="262.68" width="3.80" height="3.30" fill="#fff" />
<rect x="385.10" y="270.81" width="60.10" height="27.00" fill="#000" rx="1.5" />
<rect x="387.20" y="272.01" width="3.80" height="3.30" fill="#fff" />
<rect x="387.20" y="293.71" width="3.80" height="3.30" fill="#fff" />
<rect x="392.99" y="272.01" width="3.80" height="3.30" fill="#fff" />
<rect x="392.99" y="293.71" width="3.80" height="3.30" fill="#fff" />
<rect x="398.78" y="272.01" width="3.80" height="3.30" fill="#fff" />
<rect x="398.78" y="293.71" width="3.80" height="3.30" fill="#fff" />
<rect x="404.57" y="272.01" width="3.80" height="3.30" fill="#fff" />
<rect x="404.57" y="293.71" width="3.80" height="3.30" fill="#fff" />
<rect x="410.36" y="272.01" width="3.80" height="3.30" fill="#fff" />
<rect x="410.36" y="293.71" width="3.80" height="3.30" fill="#fff" />
<rect x="416.14" y="272.01" width="3.80" height="3.30" fill="#fff" />
<rect x="416.14" y="293.71" width="3.80" height="3.30" fill="#fff" />
<rect x="421.93" y="272.01" width="3.80" height="3.30" fill="#fff" />
<rect x="421.93" y="293.71" width="3.80" height="3.30" fill="#fff" />
<rect x="427.72" y="272.01" width="3.80" height="3.30" fill="#fff" />
<rect x="427.72" y="293.71" width="3.80" height="3.30" fill="#fff" />
<rect x="433.51" y="272.01" width="3.80" height="3.30" fill="#fff" />
<rect x="433.51" y="293.71" width="3.80" height="3.30" fill="#fff" />
<rect x="439.30" y="272.01" width="3.80" height="3.30" fill="#fff" />
<rect x="439.30" y="293.71" width="3.80" height="3.30" fill="#fff" />
<rect x="455.00" y="53.60" width="60.10" height="27.00" fill="#000" rx="1.5" />
<rect x="457.10" y="54.80" width="3.80" height="3.30" fill="#fff" />
<rect x="457.10" y="76.50" width="3.80" height="3.30" fill="#fff" />
<rect x="462.89" y="54.80" width="3.80" height="3.30" fill="#fff" />
<rect x="462.89" y="76.50" width="3.80" height="3.30" fill="#fff" />
<rect x="468.68" y="54.80" width="3.80" height="3.30" fill="#fff" />
<rect x="468.68" y="76.50" width="3.80" height="3.30" fill="#fff" />
<rect x="474.47" y="54.80" width="3.80" height="3.30" fill="#fff" />
<rect x="474.47" y="76.50" width="3.80" height="3.30" fill="#fff" />
<rect x="480.26" y="54.80" width="3.80" height="3.30" fill="#fff" />
<rect x="480.26" y="76.50" width="3.80" height="3.30" fill="#fff" />
<rect x="486.04" y="54.80" width="3.80" height="3.30" fill="#fff" />
<rect x="486.04" y="76.50" width="3.80" height="3.30" fill="#fff" />
<rect x="491.83" y="54.80" width="3.80" height="3.30" fill="#fff" />
<rect x="491.83" y="76.50" width="3.80" height="3.30" fill="#fff" />
<rect x="497.62" y="54.80" width="3.80" height="3.30" fill="#fff" />
<rect x="497.62" y="76.50" width="3.80" height="3.30" fill="#fff" />
<rect x="503.41" y="54.80" width="3.80" height="3.30" fill="#fff" />
<rect x="503.41" y="76.50" width="3.80" height="3.30" fill="#fff" />
<rect x="509.20" y="54.80" width="3.80" height="3.30" fill="#fff" />
<rect x="509.20" y="76.50" width="3.80" height="3.30" fill="#fff" />
<rect x="455.00" y="84.63" width="60.10" height="27.00" fill="#000" rx="1.5" />
<rect x="457.10" y="85.83" width="3.80" height="3.30" fill="#fff" />
<rect x="457.10" y="107.53" width="3.80" height="3.30" fill="#fff" />
<rect x="462.89" y="85.83" width="3.80" height="3.30" fill="#fff" />
<rect x="462.89" y="107.53" width="3.80" height="3.30" fill="#fff" />
<rect x="468.68" y="85.83" width="3.80" height="3.30" fill="#fff" />
<rect x="468.68" y="107.53" width="3.80" height="3.30" fill="#fff" />
<rect x="474.47" y="85.83" width="3.80" height="3.30" fill="#fff" />
<rect x="474.47" y="107.53" width="3.80" height="3.30" fill="#fff" />
<rect x="480.26" y="85.83" width="3.80" height="3.30" fill="#fff" />
<rect x="480.26" y="107.53" width="3.80" height="3.30" fill="#fff" />
<rect x="486.04" y="85.83" width="3.80" height="3.30" fill="#fff" />
<rect x="486.04" y="107.53" width="3.80" height="3.30" fill="#fff" />
<rect x="491.83" y="85.83" width="3.80" height="3.30" fill="#fff" />
<rect x="491.83" y="107.53" width="3.80" height="3.30" fill="#fff" />
<rect x="497.62" y="85.83" width="3.80" height="3.30" fill="#fff" />
<rect x="497.62" y="107.53" width="3.80" height="3.30" fill="#fff" />
<rect x="503.41" y="85.83" width="3.80" height="3.30" fill="#fff" />
<rect x="503.41" y="107.53" width="3.80" height="3.30" fill="#fff" />
<rect x="509.20" y="85.83" width="3.80" height="3.30" fill="#fff" />
<rect x="509.20" y="107.53" width="3.80" height="3.30" fill="#fff" />
<rect x="455.00" y="115.66" width="60.10" height="27.00" fill="#000" rx="1.5" />
<rect x="457.10" y="116.86" width="3.80" height="3.30" fill="#fff" />
<rect x="457.10" y="138.56" width="3.80" height="3.30" fill="#fff" />
<rect x="462.89" y="116.86" width="3.80" height="3.30" fill="#fff" />
<rect x="462.89" y="138.56" width="3.80" height="3.30" fill="#fff" />
<rect x="468.68" y="116.86" width="3.80" height="3.30" fill="#fff" />
<rect x="468.68" y="138.56" width="3.80" height="3.30" fill="#fff" />
<rect x="474.47" y="116.86" width="3.80" height="3.30" fill="#fff" />
<rect x="474.47" y="138.56" width="3.80" height="3.30" fill="#fff" />
<rect x="480.26" y="116.86" width="3.80" height="3.30" fill="#fff" />
<rect x="480.26" y="138.56" width="3.80" height="3.30" fill="#fff" />
<rect x="486.04" y="116.86" width="3.80" height="3.30" fill="#fff" />
<rect x="486.04" y="138.56" width="3.80" height="3.30" fill="#fff" />
<rect x="491.83" y="116.86" width="3.80" height="3.30" fill="#fff" />
<rect x="491.83" y="138.56" width="3.80" height="3.30" fill="#fff" />
<rect x="497.62" y="116.86" width="3.80" height="3.30" fill="#fff" />
<rect x="497.62" y="138.56" width="3.80" height="3.30" fill="#fff" />
<rect x="503.41" y="116.86" width="3.80" height="3.30" fill="#fff" />
<rect x="503.41" y="138.56" width="3.80" height="3.30" fill="#fff" />
<rect x="509.20" y="116.86" width="3.80" height="3.30" fill="#fff" />
<rect x="509.20" y="138.56" width="3.80" height="3.30" fill="#fff" />
<rect x="455.00" y="146.69" width="60.10" height="27.00" fill="#000" rx="1.5" />
<rect x="457.10" y="147.89" width="3.80" height="3.30" fill="#fff" />
<rect x="457.10" y="169.59" width="3.80" height="3.30" fill="#fff" />
<rect x="462.89" y="147.89" width="3.80" height="3.30" fill="#fff" />
<rect x="462.89" y="169.59" width="3.80" height="3.30" fill="#fff" />
<rect x="468.68" y="147.89" width="3.80" height="3.30" fill="#fff" />
<rect x="468.68" y="169.59" width="3.80" height="3.30" fill="#fff" />
<rect x="474.47" y="147.89" width="3.80" height="3.30" fill="#fff" />
<rect x="474.47" y="169.59" width="3.80" height="3.30" fill="#fff" />
<rect x="480.26" y="147.89" width="3.80" height="3.30" fill="#fff" />
<rect x="480.26" y="169.59" width="3.80" height="3.30" fill="#fff" />
<rect x="486.04" y="147.89" width="3.80" height="3.30" fill="#fff" />
<rect x="486.04" y="169.59" width="3.80" height="3.30" fill="#fff" />
<rect x="491.83" y="147.89" width="3.80" height="3.30" fill="#fff" />
<rect x="491.83" y="169.59" width="3.80" height="3.30" fill="#fff" />
<rect x="497.62" y="147.89" width="3.80" height="3.30" fill="#fff" />
<rect x="497.62" y="169.59" width="3.80" height="3.30" fill="#fff" />
<rect x="503.41" y="147.89" width="3.80" height="3.30" fill="#fff" />
<rect x="503.41" y="169.59" width="3.80" height="3.30" fill="#fff" />
<rect x="509.20" y="147.89" width="3.80" height="3.30" fill="#fff" />
<rect x="509.20" y="169.59" width="3.80" height="3.30" fill="#fff" />
<rect x="455.00" y="177.72" width="60.10" height="27.00" fill="#000" rx="1.5" />
<rect x="457.10" y="178.92" width="3.80" height="3.30" fill="#fff" />
<rect x="457.10" y="200.62" width="3.80" height="3.30" fill="#fff" />
<rect x="462.89" y="178.92" width="3.80" height="3.30" fill="#fff" />
<rect x="462.89" y="200.62" width="3.80" height="3.30" fill="#fff" />
<rect x="468.68" y="178.92" width="3.80" height="3.30" fill="#fff" />
<rect x="468.68" y="200.62" width="3.80" height="3.30" fill="#fff" />
<rect x="474.47" y="178.92" width="3.80" height="3.30" fill="#fff" />
<rect x="474.47" y="200.62" width="3.80" height="3.30" fill="#fff" />
<rect x="480.26" y="178.92" width="3.80" height="3.30" fill="#fff" />
<rect x="480.26" y="200.62" width="3.80" height="3.30" fill="#fff" />
<rect x="486.04" y="178.92" width="3.80" height="3.30" fill="#fff" />
<rect x="486.04" y="200.62" width="3.80" height="3.30" fill="#fff" />
<rect x="491.83" y="178.92" width="3.80" height="3.30" fill="#fff" />
<rect x="491.83" y="200.62" width="3.80" height="3.30" fill="#fff" />
<rect x="497.62" y="178.92" width="3.80" height="3.30" fill="#fff" />
<rect x="497.62" y="200.62" width="3.80" height="3.30" fill="#fff" />
<rect x="503.41" y="178.92" width="3.80" height="3.30" fill="#fff" />
<rect x="503.41" y="200.62" width="3.80" height="3.30" fill="#fff" />
<rect x="509.20" y="178.92" width="3.80" height="3.30" fill="#fff" />
<rect x="509.20" y="200.62" width="3.80" height="3.30" fill="#fff" />
<rect x="455.00" y="208.75" width="60.10" height="27.00" fill="#000" rx="1.5" />
<rect x="457.10" y="209.95" width="3.80" height="3.30" fill="#fff" />
<rect x="457.10" y="231.65" width="3.80" height="3.30" fill="#fff" />
<rect x="462.89" y="209.95" width="3.80" height="3.30" fill="#fff" />
<rect x="462.89" y="231.65" width="3.80" height="3.30" fill="#fff" />
<rect x="468.68" y="209.95" width="3.80" height="3.30" fill="#fff" />
<rect x="468.68" y="231.65" width="3.80" height="3.30" fill="#fff" />
<rect x="474.47" y="209.95" width="3.80" height="3.30" fill="#fff" />
<rect x="474.47" y="231.65" width="3.80" height="3.30" fill="#fff" />
<rect x="480.26" y="209.95" width="3.80" height="3.30" fill="#fff" />
<rect x="480.26" y="231.65" width="3.80" height="3.30" fill="#fff" />
<rect x="486.04" y="209.95" width="3.80" height="3.30" fill="#fff" />
<rect x="486.04" y="231.65" width="3.80" height="3.30" fill="#fff" />
<rect x="491.83" y="209.95" width="3.80" height="3.30" fill="#fff" />
<rect x="491.83" y="231.65" width="3.80" height="3.30" fill="#fff" />
<rect x="497.62" y="209.95" width="3.80" height="3.30" fill="#fff" />
<rect x="497.62" y="231.65" width="3.80" height="3.30" fill="#fff" />
<rect x="503.41" y="209.95" width="3.80" height="3.30" fill="#fff" />
<rect x="503.41" y="231.65" width="3.80" height="3.30" fill="#fff" />
<rect x="509.20" y="209.95" width="3.80" height="3.30" fill="#fff" />
<rect x="509.20" y="231.65" width="3.80" height="3.30" fill="#fff" />
<rect x="455.00" y="239.78" width="60.10" height="27.00" fill="#000" rx="1.5" />
<rect x="457.10" y="240.98" width="3.80" height="3.30" fill="#fff" />
<rect x="457.10" y="262.68" width="3.80" height="3.30" fill="#fff" />
<rect x="462.89" y="240.98" width="3.80" height="3.30" fill="#fff" />
<rect x="462.89" y="262.68" width="3.80" height="3.30" fill="#fff" />
<rect x="468.68" y="240.98" width="3.80" height="3.30" fill="#fff" />
<rect x="468.68" y="262.68" width="3.80" height="3.30" fill="#fff" />
<rect x="474.47" y="240.98" width="3.80" height="3.30" fill="#fff" />
<rect x="474.47" y="262.68" width="3.80" height="3.30" fill="#fff" />
<rect x="480.26" y="240.98" width="3.80" height="3.30" fill="#fff" />
<rect x="480.26" y="262.68" width="3.80" height="3.30" fill="#fff" />
<rect x="486.04" y="240.98" width="3.80" height="3.30" fill="#fff" />
<rect x="486.04" y="262.68" width="3.80" height="3.30" fill="#fff" />
<rect x="491.83" y="240.98" width="3.80" height="3.30" fill="#fff" />
<rect x="491.83" y="262.68" width="3.80" height="3.30" fill="#fff" />
<rect x="497.62" y="240.98" width="3.80" height="3.30" fill="#fff" />
<rect x="497.62" y="262.68" width="3.80" height="3.30" fill="#fff" />
<rect x="503.41" y="240.98" width="3.80" height="3.30" fill="#fff" />
<rect x="503.41" y="262.68" width="3.80" height="3.30" fill="#fff" />
<rect x="509.20" y="240.98" width="3.80" height="3.30" fill="#fff" />
<rect x="509.20" y="262.68" width="3.80" height="3.30" fill="#fff" />
<rect x="455.00" y="270.81" width="60.10" height="27.00" fill="#000" rx="1.5" />
<rect x="457.10" y="272.01" width="3.80" height="3.30" fill="#fff" />
<rect x="457.10" y="293.71" width="3.80" height="3.30" fill="#fff" />
<rect x="462.89" y="272.01" width="3.80" height="3.30" fill="#fff" />
<rect x="462.89" y="293.71" width="3.80" height="3.30" fill="#fff" />
<rect x="468.68" y="272.01" width="3.80" height="3.30" fill="#fff" />
<rect x="468.68" y="293.71" width="3.80" height="3.30" fill="#fff" />
<rect x="474.47" y="272.01" width="3.80" height="3.30" fill="#fff" />
<rect x="474.47" y="293.71" width="3.80" height="3.30" fill="#fff" />
<rect x="480.26" y="272.01" width="3.80" height="3.30" fill="#fff" />
<rect x="480.26" y="293.71" width="3.80" height="3.30" fill="#fff" />
<rect x="486.04" y="272.01" width="3.80" height="3.30" fill="#fff" />
<rect x="486.04" y="293.71" width="3.80" height="3.30" fill="#fff" />
<rect x="491.83" y="272.01" width="3.80" height="3.30" fill="#fff" />
<rect x="491.83" y="293.71" width="3.80" height="3.30" fill="#fff" />
<rect x="497.62" y="272.01" width="3.80" height="3.30" fill="#fff" />
<rect x="497.62" y="293.71" width="3.80" height="3.30" fill="#fff" />
<rect x="503.41" y="272.01" width="3.80" height="3.30" fill="#fff" />
<rect x="503.41" y="293.71" width="3.80" height="3.30" fill="#fff" />
<rect x="509.20" y="272.01" width="3.80" height="3.30" fill="#fff" />
<rect x="509.20" y="293.71" width="3.80" height="3.30" fill="#fff" />
<rect x="407.60" y="139.60" width="14.70" height="72.40" fill="#fff" />
<text transform="translate(414.95 149.80) scale(1 1.2)" font-size="12" text-anchor="middle" letter-spacing="0" fill="#000" >B</text>
<text transform="translate(414.95 164.90) scale(1 1.2)" font-size="12" text-anchor="middle" letter-spacing="0" fill="#000" >A</text>
<text transform="translate(414.95 180.00) scale(1 1.2)" font-size="12" text-anchor="middle" letter-spacing="0" fill="#000" >N</text>
<text transform="translate(414.95 195.10) scale(1 1.2)" font-size="12" text-anchor="middle" letter-spacing="0" fill="#000" >K</text>
<text transform="translate(414.95 210.20) scale(1 1.2)" font-size="12" text-anchor="middle" letter-spacing="0" fill="#000" >1</text>
<rect x="477.90" y="139.60" width="14.40" height="72.40" fill="#fff" />
<text transform="translate(485.10 149.80) scale(1 1.2)" font-size="12" text-anchor="middle" letter-spacing="0" fill="#000" >B</text>
<text transform="translate(485.10 164.90) scale(1 1.2)" font-size="12" text-anchor="middle" letter-spacing="0" fill="#000" >A</text>
<text transform="translate(485.10 180.00) scale(1 1.2)" font-size="12" text-anchor="middle" letter-spacing="0" fill="#000" >N</text>
<text transform="translate(485.10 195.10) scale(1 1.2)" font-size="12" text-anchor="middle" letter-spacing="0" fill="#000" >K</text>
<text transform="translate(485.10 210.20) scale(1 1.2)" font-size="12" text-anchor="middle" letter-spacing="0" fill="#000" >0</text>
<polygon points="375.00,24.00 380.00,26.50 394.00,28.70 380.00,30.50 375.00,33.00" fill="#fff" stroke="#000" stroke-width="2" stroke-linejoin="miter" shape-rendering="geometricPrecision"/>
<rect x="340.80" y="19.10" width="35.40" height="19.10" fill="#000" rx="3.2" shape-rendering="geometricPrecision"/>
<rect x="342.40" y="20.70" width="31.60" height="14.70" fill="#fff" rx="2.0" shape-rendering="geometricPrecision"/>
<text transform="translate(357.50 32.67) scale(1 1.2)" font-size="12" text-anchor="middle" letter-spacing="1" fill="#000" >J29</text>
<rect x="396.00" y="15.70" width="25.50" height="5.30" fill="#fff" stroke="#000" stroke-width="1" />
<rect x="397.60" y="17.40" width="3.90" height="2.80" fill="#000" />
<rect x="402.35" y="17.40" width="3.90" height="2.80" fill="#000" />
<rect x="407.10" y="17.40" width="3.90" height="2.80" fill="#000" />
<rect x="411.85" y="17.40" width="3.90" height="2.80" fill="#000" />
<rect x="416.60" y="17.40" width="3.90" height="2.80" fill="#000" />
<rect x="396.00" y="26.00" width="19.00" height="5.00" fill="#000" />
<path d="M400.75 27 V29" stroke="#fff" stroke-width="0.8"/>
<path d="M405.50 27 V29" stroke="#fff" stroke-width="0.8"/>
<path d="M410.25 27 V29" stroke="#fff" stroke-width="0.8"/>
<polygon points="443.00,14.00 438.00,16.00 427.00,18.30 438.00,20.00 443.00,22.50" fill="#fff" stroke="#000" stroke-width="2" stroke-linejoin="miter" shape-rendering="geometricPrecision"/>
<rect x="441.60" y="9.00" width="33.40" height="18.10" fill="#000" rx="3.2" shape-rendering="geometricPrecision"/>
<rect x="443.20" y="10.60" width="29.60" height="13.70" fill="#fff" rx="2.0" shape-rendering="geometricPrecision"/>
<text transform="translate(457.30 22.07) scale(1 1.2)" font-size="12" text-anchor="middle" letter-spacing="1" fill="#000" >J28</text>
<circle cx="542.7" cy="25.8" r="14" fill="#000"/><circle cx="542.7" cy="25.8" r="3.3" fill="#fff"/>
<rect x="603.00" y="43.00" width="45.00" height="45.00" fill="#000" rx="2.5" />
<rect x="611.00" y="58.00" width="29.00" height="14.50" fill="#fff" stroke="#000" stroke-width="1" rx="2" />
<text transform="translate(625.80 69.50) scale(1 1.2)" font-size="12" text-anchor="middle" letter-spacing="0.7" fill="#000" >KBD</text>
<rect x="579.50" y="17.80" width="13.00" height="5.50" fill="#fff" stroke="#000" stroke-width="1" />
<rect x="581.00" y="20.00" width="10.00" height="2.50" fill="#000" />
<path d="M584.3 19.5 V22.5 M587.7 19.5 V22.5" stroke="#fff" stroke-width="0.8"/>
<polygon points="582.60,43.50 583.80,36.00 584.30,25.30 585.80,36.00 587.20,43.50" fill="#fff" stroke="#000" stroke-width="2" stroke-linejoin="miter" shape-rendering="geometricPrecision"/>
<rect x="569.20" y="42.30" width="32.50" height="18.40" fill="#000" rx="3.2" shape-rendering="geometricPrecision"/>
<rect x="570.80" y="43.90" width="28.70" height="14.00" fill="#fff" rx="2.0" shape-rendering="geometricPrecision"/>
<text transform="translate(584.45 55.52) scale(1 1.2)" font-size="12" text-anchor="middle" letter-spacing="1" fill="#000" >J19</text>
<rect x="625.50" y="17.30" width="12.50" height="6.30" fill="#000" />
<path d="M627 20 H636.5 M632 20 V22.5" stroke="#fff" stroke-width="0.9" fill="none"/>
<polygon points="640.00,38.00 637.00,30.50 632.00,24.50 640.50,28.80 647.00,33.00" fill="#fff" stroke="#000" stroke-width="2" stroke-linejoin="miter" shape-rendering="geometricPrecision"/>
<rect x="638.30" y="31.50" width="32.90" height="18.60" fill="#000" rx="3.2" shape-rendering="geometricPrecision"/>
<rect x="639.90" y="33.10" width="29.10" height="14.20" fill="#fff" rx="2.0" shape-rendering="geometricPrecision"/>
<text transform="translate(653.75 44.82) scale(1 1.2)" font-size="12" text-anchor="middle" letter-spacing="1" fill="#000" >J16</text>
<rect x="667.50" y="13.30" width="77.70" height="11.90" fill="#fff" stroke="#000" stroke-width="1" />
<rect x="669.00" y="14.80" width="2.88" height="4.00" fill="#000" shape-rendering="geometricPrecision"/>
<rect x="672.78" y="14.80" width="2.88" height="4.00" fill="#000" shape-rendering="geometricPrecision"/>
<rect x="676.56" y="14.80" width="2.88" height="4.00" fill="#000" shape-rendering="geometricPrecision"/>
<rect x="680.34" y="14.80" width="2.88" height="4.00" fill="#000" shape-rendering="geometricPrecision"/>
<rect x="684.12" y="14.80" width="2.88" height="4.00" fill="#000" shape-rendering="geometricPrecision"/>
<rect x="687.90" y="14.80" width="2.88" height="4.00" fill="#000" shape-rendering="geometricPrecision"/>
<rect x="691.68" y="14.80" width="2.88" height="4.00" fill="#000" shape-rendering="geometricPrecision"/>
<rect x="695.46" y="14.80" width="2.88" height="4.00" fill="#000" shape-rendering="geometricPrecision"/>
<rect x="699.24" y="14.80" width="2.88" height="4.00" fill="#000" shape-rendering="geometricPrecision"/>
<rect x="703.02" y="14.80" width="2.88" height="4.00" fill="#000" shape-rendering="geometricPrecision"/>
<rect x="706.80" y="14.80" width="2.88" height="4.00" fill="#000" shape-rendering="geometricPrecision"/>
<rect x="710.58" y="14.80" width="2.88" height="4.00" fill="#000" shape-rendering="geometricPrecision"/>
<rect x="714.36" y="14.80" width="2.88" height="4.00" fill="#000" shape-rendering="geometricPrecision"/>
<rect x="718.14" y="14.80" width="2.88" height="4.00" fill="#000" shape-rendering="geometricPrecision"/>
<rect x="721.92" y="14.80" width="2.88" height="4.00" fill="#000" shape-rendering="geometricPrecision"/>
<rect x="725.70" y="14.80" width="2.88" height="4.00" fill="#000" shape-rendering="geometricPrecision"/>
<rect x="729.48" y="14.80" width="2.88" height="4.00" fill="#000" shape-rendering="geometricPrecision"/>
<rect x="733.26" y="14.80" width="2.88" height="4.00" fill="#000" shape-rendering="geometricPrecision"/>
<rect x="737.04" y="14.80" width="2.88" height="4.00" fill="#000" shape-rendering="geometricPrecision"/>
<rect x="740.82" y="14.80" width="2.88" height="4.00" fill="#000" shape-rendering="geometricPrecision"/>
<rect x="669.00" y="19.70" width="2.88" height="4.00" fill="#000" shape-rendering="geometricPrecision"/>
<rect x="672.78" y="19.70" width="2.88" height="4.00" fill="#000" shape-rendering="geometricPrecision"/>
<rect x="676.56" y="19.70" width="2.88" height="4.00" fill="#000" shape-rendering="geometricPrecision"/>
<rect x="680.34" y="19.70" width="2.88" height="4.00" fill="#000" shape-rendering="geometricPrecision"/>
<rect x="684.12" y="19.70" width="2.88" height="4.00" fill="#000" shape-rendering="geometricPrecision"/>
<rect x="687.90" y="19.70" width="2.88" height="4.00" fill="#000" shape-rendering="geometricPrecision"/>
<rect x="691.68" y="19.70" width="2.88" height="4.00" fill="#000" shape-rendering="geometricPrecision"/>
<rect x="695.46" y="19.70" width="2.88" height="4.00" fill="#000" shape-rendering="geometricPrecision"/>
<rect x="699.24" y="19.70" width="2.88" height="4.00" fill="#000" shape-rendering="geometricPrecision"/>
<rect x="703.02" y="19.70" width="2.88" height="4.00" fill="#000" shape-rendering="geometricPrecision"/>
<rect x="706.80" y="19.70" width="2.88" height="4.00" fill="#000" shape-rendering="geometricPrecision"/>
<rect x="710.58" y="19.70" width="2.88" height="4.00" fill="#000" shape-rendering="geometricPrecision"/>
<rect x="714.36" y="19.70" width="2.88" height="4.00" fill="#000" shape-rendering="geometricPrecision"/>
<rect x="718.14" y="19.70" width="2.88" height="4.00" fill="#000" shape-rendering="geometricPrecision"/>
<rect x="721.92" y="19.70" width="2.88" height="4.00" fill="#000" shape-rendering="geometricPrecision"/>
<rect x="725.70" y="19.70" width="2.88" height="4.00" fill="#000" shape-rendering="geometricPrecision"/>
<rect x="729.48" y="19.70" width="2.88" height="4.00" fill="#000" shape-rendering="geometricPrecision"/>
<rect x="733.26" y="19.70" width="2.88" height="4.00" fill="#000" shape-rendering="geometricPrecision"/>
<rect x="737.04" y="19.70" width="2.88" height="4.00" fill="#000" shape-rendering="geometricPrecision"/>
<rect x="740.82" y="19.70" width="2.88" height="4.00" fill="#000" shape-rendering="geometricPrecision"/>
<polygon points="704.20,45.50 705.80,38.00 706.90,27.00 708.00,38.00 709.40,45.50" fill="#fff" stroke="#000" stroke-width="2" stroke-linejoin="miter" shape-rendering="geometricPrecision"/>
<rect x="688.80" y="44.10" width="32.90" height="18.30" fill="#000" rx="3.2" shape-rendering="geometricPrecision"/>
<rect x="690.40" y="45.70" width="29.10" height="13.90" fill="#fff" rx="2.0" shape-rendering="geometricPrecision"/>
<text transform="translate(704.25 57.27) scale(1 1.2)" font-size="12" text-anchor="middle" letter-spacing="1" fill="#000" >J13</text>
<text transform="translate(700.90 84.50) scale(1 1.2)" font-size="10" text-anchor="middle" letter-spacing="0" fill="#000" textLength="42.6" lengthAdjust="spacing">MH1524</text>
<rect x="745.00" y="79.00" width="46.50" height="47.00" fill="#000" rx="4" />
<rect x="833.50" y="13.50" width="39.00" height="38.50" fill="#fff" stroke="#000" stroke-width="1" />
<rect x="866.00" y="13.00" width="7.00" height="39.50" fill="#000" />
<rect x="840.00" y="24.00" width="25.60" height="19.20" fill="#000" rx="4.5" />
<rect x="842.00" y="26.00" width="21.00" height="14.40" fill="#fff" rx="2.8" />
<text transform="translate(852.80 37.30) scale(1 1.2)" font-size="12" text-anchor="middle" letter-spacing="1" fill="#000" >J1</text>
<rect x="833.50" y="59.50" width="39.00" height="38.00" fill="#fff" stroke="#000" stroke-width="1" />
<rect x="866.00" y="59.00" width="7.00" height="39.00" fill="#000" />
<rect x="840.00" y="70.00" width="25.60" height="19.60" fill="#000" rx="4.5" />
<rect x="842.00" y="72.00" width="21.00" height="14.80" fill="#fff" rx="2.8" />
<text transform="translate(852.80 83.50) scale(1 1.2)" font-size="12" text-anchor="middle" letter-spacing="1" fill="#000" >J2</text>
<rect x="865.00" y="105.00" width="7.50" height="11.00" fill="#000" />
<rect x="865.00" y="160.50" width="7.50" height="12.30" fill="#000" />
<rect x="837.00" y="116.00" width="35.30" height="44.50" fill="#000" />
<rect x="863.80" y="108.47" width="17.10" height="5.40" fill="#fff" stroke="#000" stroke-width="1" />
<rect x="865.00" y="108.47" width="7.50" height="5.40" fill="#000" />
<rect x="863.80" y="162.57" width="17.10" height="5.40" fill="#fff" stroke="#000" stroke-width="1" />
<rect x="865.00" y="162.57" width="7.50" height="5.40" fill="#000" />
<rect x="872.30" y="117.50" width="15.00" height="41.00" fill="#fff" stroke="#000" stroke-width="1" />
<rect x="852.80" y="130.60" width="21.90" height="17.10" fill="#000" rx="2" shape-rendering="geometricPrecision"/>
<rect x="852.80" y="131.60" width="19.90" height="14.10" fill="#fff" rx="0.8" shape-rendering="geometricPrecision"/>
<text transform="translate(863.25 143.67) scale(1 1.2)" font-size="12" text-anchor="middle" letter-spacing="1" fill="#000" >J3</text>
<rect x="868.60" y="182.00" width="3.40" height="9.00" fill="#000" />
<rect x="868.60" y="271.00" width="3.40" height="9.50" fill="#000" />
<rect x="844.00" y="191.00" width="28.00" height="80.00" fill="#000" />
<rect x="865.00" y="184.23" width="17.00" height="5.40" fill="#fff" stroke="#000" stroke-width="1" />
<rect x="868.60" y="184.23" width="3.40" height="5.40" fill="#000" />
<rect x="865.00" y="272.23" width="17.00" height="5.40" fill="#fff" stroke="#000" stroke-width="1" />
<rect x="868.60" y="272.23" width="3.40" height="5.40" fill="#000" />
<rect x="872.00" y="182.00" width="1.80" height="98.50" fill="#fff" />
<rect x="873.80" y="182.00" width="1.20" height="98.50" fill="#000" />
<rect x="874.50" y="191.50" width="13.00" height="79.00" fill="#fff" stroke="#000" stroke-width="1" />
<rect x="855.80" y="222.10" width="22.70" height="18.20" fill="#000" rx="2" shape-rendering="geometricPrecision"/>
<rect x="855.80" y="223.10" width="20.70" height="15.20" fill="#fff" rx="0.8" shape-rendering="geometricPrecision"/>
<text transform="translate(866.65 235.72) scale(1 1.2)" font-size="12" text-anchor="middle" letter-spacing="1" fill="#000" >J4</text>
<rect x="868.60" y="293.00" width="3.40" height="9.00" fill="#000" />
<rect x="868.60" y="393.60" width="3.40" height="9.50" fill="#000" />
<rect x="844.00" y="302.00" width="28.00" height="91.60" fill="#000" />
<rect x="865.00" y="295.23" width="17.00" height="5.40" fill="#fff" stroke="#000" stroke-width="1" />
<rect x="868.60" y="295.23" width="3.40" height="5.40" fill="#000" />
<rect x="865.00" y="394.83" width="17.00" height="5.40" fill="#fff" stroke="#000" stroke-width="1" />
<rect x="868.60" y="394.83" width="3.40" height="5.40" fill="#000" />
<rect x="872.00" y="293.00" width="1.80" height="110.10" fill="#fff" />
<rect x="873.80" y="293.00" width="1.20" height="110.10" fill="#000" />
<rect x="874.50" y="302.50" width="13.00" height="90.60" fill="#fff" stroke="#000" stroke-width="1" />
<rect x="855.80" y="338.60" width="22.70" height="18.10" fill="#000" rx="2" shape-rendering="geometricPrecision"/>
<rect x="855.80" y="339.60" width="20.70" height="15.10" fill="#fff" rx="0.8" shape-rendering="geometricPrecision"/>
<text transform="translate(866.65 352.17) scale(1 1.2)" font-size="12" text-anchor="middle" letter-spacing="1" fill="#000" >J5</text>
<rect x="865.00" y="415.20" width="7.50" height="11.00" fill="#000" />
<rect x="865.00" y="470.30" width="7.50" height="12.00" fill="#000" />
<rect x="837.00" y="426.20" width="35.30" height="44.10" fill="#000" />
<rect x="863.80" y="418.67" width="17.10" height="5.40" fill="#fff" stroke="#000" stroke-width="1" />
<rect x="865.00" y="418.67" width="7.50" height="5.40" fill="#000" />
<rect x="863.80" y="472.28" width="17.10" height="5.40" fill="#fff" stroke="#000" stroke-width="1" />
<rect x="865.00" y="472.28" width="7.50" height="5.40" fill="#000" />
<rect x="872.30" y="427.70" width="15.00" height="40.60" fill="#fff" stroke="#000" stroke-width="1" />
<rect x="852.80" y="439.60" width="22.40" height="19.10" fill="#000" rx="2" shape-rendering="geometricPrecision"/>
<rect x="852.80" y="440.60" width="20.40" height="16.10" fill="#fff" rx="0.8" shape-rendering="geometricPrecision"/>
<text transform="translate(863.50 453.67) scale(1 1.2)" font-size="12" text-anchor="middle" letter-spacing="1" fill="#000" >J6</text>
<path d="M523.00 105.00 H685.00" fill="none" stroke="#000" stroke-width="2" stroke-dasharray="6 4"/>
<path d="M518.50 105.00 V238.00" fill="none" stroke="#000" stroke-width="3" stroke-dasharray="6 4"/>
<path d="M524.00 236.50 H685.00" fill="none" stroke="#000" stroke-width="3" stroke-dasharray="6 4"/>
<path d="M684.00 111.00 V237.00" fill="none" stroke="#000" stroke-width="2" stroke-dasharray="6 4"/>
<rect x="523.50" y="111.00" width="58.50" height="26.00" fill="#000" rx="1.5" />
<rect x="525.60" y="112.20" width="3.80" height="3.30" fill="#fff" />
<rect x="525.60" y="132.90" width="3.80" height="3.30" fill="#fff" />
<rect x="531.21" y="112.20" width="3.80" height="3.30" fill="#fff" />
<rect x="531.21" y="132.90" width="3.80" height="3.30" fill="#fff" />
<rect x="536.82" y="112.20" width="3.80" height="3.30" fill="#fff" />
<rect x="536.82" y="132.90" width="3.80" height="3.30" fill="#fff" />
<rect x="542.43" y="112.20" width="3.80" height="3.30" fill="#fff" />
<rect x="542.43" y="132.90" width="3.80" height="3.30" fill="#fff" />
<rect x="548.04" y="112.20" width="3.80" height="3.30" fill="#fff" />
<rect x="548.04" y="132.90" width="3.80" height="3.30" fill="#fff" />
<rect x="553.66" y="112.20" width="3.80" height="3.30" fill="#fff" />
<rect x="553.66" y="132.90" width="3.80" height="3.30" fill="#fff" />
<rect x="559.27" y="112.20" width="3.80" height="3.30" fill="#fff" />
<rect x="559.27" y="132.90" width="3.80" height="3.30" fill="#fff" />
<rect x="564.88" y="112.20" width="3.80" height="3.30" fill="#fff" />
<rect x="564.88" y="132.90" width="3.80" height="3.30" fill="#fff" />
<rect x="570.49" y="112.20" width="3.80" height="3.30" fill="#fff" />
<rect x="570.49" y="132.90" width="3.80" height="3.30" fill="#fff" />
<rect x="576.10" y="112.20" width="3.80" height="3.30" fill="#fff" />
<rect x="576.10" y="132.90" width="3.80" height="3.30" fill="#fff" />
<rect x="523.50" y="142.00" width="58.50" height="26.50" fill="#000" rx="1.5" />
<rect x="525.60" y="143.20" width="3.80" height="3.30" fill="#fff" />
<rect x="525.60" y="164.40" width="3.80" height="3.30" fill="#fff" />
<rect x="531.21" y="143.20" width="3.80" height="3.30" fill="#fff" />
<rect x="531.21" y="164.40" width="3.80" height="3.30" fill="#fff" />
<rect x="536.82" y="143.20" width="3.80" height="3.30" fill="#fff" />
<rect x="536.82" y="164.40" width="3.80" height="3.30" fill="#fff" />
<rect x="542.43" y="143.20" width="3.80" height="3.30" fill="#fff" />
<rect x="542.43" y="164.40" width="3.80" height="3.30" fill="#fff" />
<rect x="548.04" y="143.20" width="3.80" height="3.30" fill="#fff" />
<rect x="548.04" y="164.40" width="3.80" height="3.30" fill="#fff" />
<rect x="553.66" y="143.20" width="3.80" height="3.30" fill="#fff" />
<rect x="553.66" y="164.40" width="3.80" height="3.30" fill="#fff" />
<rect x="559.27" y="143.20" width="3.80" height="3.30" fill="#fff" />
<rect x="559.27" y="164.40" width="3.80" height="3.30" fill="#fff" />
<rect x="564.88" y="143.20" width="3.80" height="3.30" fill="#fff" />
<rect x="564.88" y="164.40" width="3.80" height="3.30" fill="#fff" />
<rect x="570.49" y="143.20" width="3.80" height="3.30" fill="#fff" />
<rect x="570.49" y="164.40" width="3.80" height="3.30" fill="#fff" />
<rect x="576.10" y="143.20" width="3.80" height="3.30" fill="#fff" />
<rect x="576.10" y="164.40" width="3.80" height="3.30" fill="#fff" />
<rect x="523.50" y="173.50" width="58.50" height="26.00" fill="#000" rx="1.5" />
<rect x="525.60" y="174.70" width="3.80" height="3.30" fill="#fff" />
<rect x="525.60" y="195.40" width="3.80" height="3.30" fill="#fff" />
<rect x="531.21" y="174.70" width="3.80" height="3.30" fill="#fff" />
<rect x="531.21" y="195.40" width="3.80" height="3.30" fill="#fff" />
<rect x="536.82" y="174.70" width="3.80" height="3.30" fill="#fff" />
<rect x="536.82" y="195.40" width="3.80" height="3.30" fill="#fff" />
<rect x="542.43" y="174.70" width="3.80" height="3.30" fill="#fff" />
<rect x="542.43" y="195.40" width="3.80" height="3.30" fill="#fff" />
<rect x="548.04" y="174.70" width="3.80" height="3.30" fill="#fff" />
<rect x="548.04" y="195.40" width="3.80" height="3.30" fill="#fff" />
<rect x="553.66" y="174.70" width="3.80" height="3.30" fill="#fff" />
<rect x="553.66" y="195.40" width="3.80" height="3.30" fill="#fff" />
<rect x="559.27" y="174.70" width="3.80" height="3.30" fill="#fff" />
<rect x="559.27" y="195.40" width="3.80" height="3.30" fill="#fff" />
<rect x="564.88" y="174.70" width="3.80" height="3.30" fill="#fff" />
<rect x="564.88" y="195.40" width="3.80" height="3.30" fill="#fff" />
<rect x="570.49" y="174.70" width="3.80" height="3.30" fill="#fff" />
<rect x="570.49" y="195.40" width="3.80" height="3.30" fill="#fff" />
<rect x="576.10" y="174.70" width="3.80" height="3.30" fill="#fff" />
<rect x="576.10" y="195.40" width="3.80" height="3.30" fill="#fff" />
<rect x="523.50" y="205.00" width="58.50" height="25.50" fill="#000" rx="1.5" />
<rect x="525.60" y="206.20" width="3.80" height="3.30" fill="#fff" />
<rect x="525.60" y="226.40" width="3.80" height="3.30" fill="#fff" />
<rect x="531.21" y="206.20" width="3.80" height="3.30" fill="#fff" />
<rect x="531.21" y="226.40" width="3.80" height="3.30" fill="#fff" />
<rect x="536.82" y="206.20" width="3.80" height="3.30" fill="#fff" />
<rect x="536.82" y="226.40" width="3.80" height="3.30" fill="#fff" />
<rect x="542.43" y="206.20" width="3.80" height="3.30" fill="#fff" />
<rect x="542.43" y="226.40" width="3.80" height="3.30" fill="#fff" />
<rect x="548.04" y="206.20" width="3.80" height="3.30" fill="#fff" />
<rect x="548.04" y="226.40" width="3.80" height="3.30" fill="#fff" />
<rect x="553.66" y="206.20" width="3.80" height="3.30" fill="#fff" />
<rect x="553.66" y="226.40" width="3.80" height="3.30" fill="#fff" />
<rect x="559.27" y="206.20" width="3.80" height="3.30" fill="#fff" />
<rect x="559.27" y="226.40" width="3.80" height="3.30" fill="#fff" />
<rect x="564.88" y="206.20" width="3.80" height="3.30" fill="#fff" />
<rect x="564.88" y="226.40" width="3.80" height="3.30" fill="#fff" />
<rect x="570.49" y="206.20" width="3.80" height="3.30" fill="#fff" />
<rect x="570.49" y="226.40" width="3.80" height="3.30" fill="#fff" />
<rect x="576.10" y="206.20" width="3.80" height="3.30" fill="#fff" />
<rect x="576.10" y="226.40" width="3.80" height="3.30" fill="#fff" />
<rect x="523.50" y="160.00" width="58.50" height="22.00" fill="#000" />
<rect x="525.00" y="164.00" width="58.00" height="14.00" fill="#fff" />
<text transform="translate(553.00 175.50) scale(1 1.2)" font-size="12" text-anchor="middle" letter-spacing="1" fill="#000" >BANK 0</text>
<rect x="596.00" y="110.90" width="61.00" height="23.90" fill="#000" />
<rect x="598.00" y="112.10" width="3.70" height="5.50" fill="#fff" />
<rect x="598.00" y="128.30" width="3.70" height="5.50" fill="#fff" />
<rect x="603.90" y="112.10" width="3.70" height="5.50" fill="#fff" />
<rect x="603.90" y="128.30" width="3.70" height="5.50" fill="#fff" />
<rect x="609.80" y="112.10" width="3.70" height="5.50" fill="#fff" />
<rect x="609.80" y="128.30" width="3.70" height="5.50" fill="#fff" />
<rect x="615.70" y="112.10" width="3.70" height="5.50" fill="#fff" />
<rect x="615.70" y="128.30" width="3.70" height="5.50" fill="#fff" />
<rect x="621.60" y="112.10" width="3.70" height="5.50" fill="#fff" />
<rect x="621.60" y="128.30" width="3.70" height="5.50" fill="#fff" />
<rect x="627.50" y="112.10" width="3.70" height="5.50" fill="#fff" />
<rect x="627.50" y="128.30" width="3.70" height="5.50" fill="#fff" />
<rect x="633.40" y="112.10" width="3.70" height="5.50" fill="#fff" />
<rect x="633.40" y="128.30" width="3.70" height="5.50" fill="#fff" />
<rect x="639.30" y="112.10" width="3.70" height="5.50" fill="#fff" />
<rect x="639.30" y="128.30" width="3.70" height="5.50" fill="#fff" />
<rect x="645.20" y="112.10" width="3.70" height="5.50" fill="#fff" />
<rect x="645.20" y="128.30" width="3.70" height="5.50" fill="#fff" />
<rect x="651.10" y="112.10" width="3.70" height="5.50" fill="#fff" />
<rect x="651.10" y="128.30" width="3.70" height="5.50" fill="#fff" />
<rect x="601.00" y="119.85" width="21.10" height="6.20" fill="#fff" />
<rect x="628.00" y="119.85" width="21.30" height="6.20" fill="#fff" />
<rect x="653.80" y="120.55" width="3.40" height="4.80" fill="#fff" />
<rect x="596.00" y="143.00" width="61.00" height="24.00" fill="#000" />
<rect x="598.00" y="144.20" width="3.70" height="5.50" fill="#fff" />
<rect x="598.00" y="160.50" width="3.70" height="5.50" fill="#fff" />
<rect x="603.90" y="144.20" width="3.70" height="5.50" fill="#fff" />
<rect x="603.90" y="160.50" width="3.70" height="5.50" fill="#fff" />
<rect x="609.80" y="144.20" width="3.70" height="5.50" fill="#fff" />
<rect x="609.80" y="160.50" width="3.70" height="5.50" fill="#fff" />
<rect x="615.70" y="144.20" width="3.70" height="5.50" fill="#fff" />
<rect x="615.70" y="160.50" width="3.70" height="5.50" fill="#fff" />
<rect x="621.60" y="144.20" width="3.70" height="5.50" fill="#fff" />
<rect x="621.60" y="160.50" width="3.70" height="5.50" fill="#fff" />
<rect x="627.50" y="144.20" width="3.70" height="5.50" fill="#fff" />
<rect x="627.50" y="160.50" width="3.70" height="5.50" fill="#fff" />
<rect x="633.40" y="144.20" width="3.70" height="5.50" fill="#fff" />
<rect x="633.40" y="160.50" width="3.70" height="5.50" fill="#fff" />
<rect x="639.30" y="144.20" width="3.70" height="5.50" fill="#fff" />
<rect x="639.30" y="160.50" width="3.70" height="5.50" fill="#fff" />
<rect x="645.20" y="144.20" width="3.70" height="5.50" fill="#fff" />
<rect x="645.20" y="160.50" width="3.70" height="5.50" fill="#fff" />
<rect x="651.10" y="144.20" width="3.70" height="5.50" fill="#fff" />
<rect x="651.10" y="160.50" width="3.70" height="5.50" fill="#fff" />
<rect x="601.00" y="152.00" width="21.10" height="6.20" fill="#fff" />
<rect x="628.00" y="152.00" width="21.30" height="6.20" fill="#fff" />
<rect x="653.80" y="152.70" width="3.40" height="4.80" fill="#fff" />
<rect x="596.00" y="174.60" width="61.00" height="24.00" fill="#000" />
<rect x="598.00" y="175.80" width="3.70" height="5.50" fill="#fff" />
<rect x="598.00" y="192.10" width="3.70" height="5.50" fill="#fff" />
<rect x="603.90" y="175.80" width="3.70" height="5.50" fill="#fff" />
<rect x="603.90" y="192.10" width="3.70" height="5.50" fill="#fff" />
<rect x="609.80" y="175.80" width="3.70" height="5.50" fill="#fff" />
<rect x="609.80" y="192.10" width="3.70" height="5.50" fill="#fff" />
<rect x="615.70" y="175.80" width="3.70" height="5.50" fill="#fff" />
<rect x="615.70" y="192.10" width="3.70" height="5.50" fill="#fff" />
<rect x="621.60" y="175.80" width="3.70" height="5.50" fill="#fff" />
<rect x="621.60" y="192.10" width="3.70" height="5.50" fill="#fff" />
<rect x="627.50" y="175.80" width="3.70" height="5.50" fill="#fff" />
<rect x="627.50" y="192.10" width="3.70" height="5.50" fill="#fff" />
<rect x="633.40" y="175.80" width="3.70" height="5.50" fill="#fff" />
<rect x="633.40" y="192.10" width="3.70" height="5.50" fill="#fff" />
<rect x="639.30" y="175.80" width="3.70" height="5.50" fill="#fff" />
<rect x="639.30" y="192.10" width="3.70" height="5.50" fill="#fff" />
<rect x="645.20" y="175.80" width="3.70" height="5.50" fill="#fff" />
<rect x="645.20" y="192.10" width="3.70" height="5.50" fill="#fff" />
<rect x="651.10" y="175.80" width="3.70" height="5.50" fill="#fff" />
<rect x="651.10" y="192.10" width="3.70" height="5.50" fill="#fff" />
<rect x="601.00" y="183.60" width="21.10" height="6.20" fill="#fff" />
<rect x="628.00" y="183.60" width="21.30" height="6.20" fill="#fff" />
<rect x="653.80" y="184.30" width="3.40" height="4.80" fill="#fff" />
<rect x="596.00" y="207.00" width="61.00" height="23.80" fill="#000" />
<rect x="598.00" y="208.20" width="3.70" height="5.50" fill="#fff" />
<rect x="598.00" y="224.30" width="3.70" height="5.50" fill="#fff" />
<rect x="603.90" y="208.20" width="3.70" height="5.50" fill="#fff" />
<rect x="603.90" y="224.30" width="3.70" height="5.50" fill="#fff" />
<rect x="609.80" y="208.20" width="3.70" height="5.50" fill="#fff" />
<rect x="609.80" y="224.30" width="3.70" height="5.50" fill="#fff" />
<rect x="615.70" y="208.20" width="3.70" height="5.50" fill="#fff" />
<rect x="615.70" y="224.30" width="3.70" height="5.50" fill="#fff" />
<rect x="621.60" y="208.20" width="3.70" height="5.50" fill="#fff" />
<rect x="621.60" y="224.30" width="3.70" height="5.50" fill="#fff" />
<rect x="627.50" y="208.20" width="3.70" height="5.50" fill="#fff" />
<rect x="627.50" y="224.30" width="3.70" height="5.50" fill="#fff" />
<rect x="633.40" y="208.20" width="3.70" height="5.50" fill="#fff" />
<rect x="633.40" y="224.30" width="3.70" height="5.50" fill="#fff" />
<rect x="639.30" y="208.20" width="3.70" height="5.50" fill="#fff" />
<rect x="639.30" y="224.30" width="3.70" height="5.50" fill="#fff" />
<rect x="645.20" y="208.20" width="3.70" height="5.50" fill="#fff" />
<rect x="645.20" y="224.30" width="3.70" height="5.50" fill="#fff" />
<rect x="651.10" y="208.20" width="3.70" height="5.50" fill="#fff" />
<rect x="651.10" y="224.30" width="3.70" height="5.50" fill="#fff" />
<rect x="601.00" y="215.90" width="21.10" height="6.20" fill="#fff" />
<rect x="628.00" y="215.90" width="21.30" height="6.20" fill="#fff" />
<rect x="653.80" y="216.60" width="3.40" height="4.80" fill="#fff" />
<rect x="596.00" y="163.70" width="59.00" height="13.50" fill="#fff" stroke="#000" stroke-width="1" />
<text transform="translate(626.00 175.00) scale(1 1.2)" font-size="12" text-anchor="middle" letter-spacing="1" fill="#000" >BANK 1</text>
<rect x="663.00" y="138.50" width="16.50" height="65.50" fill="#000" rx="3.5" />
<rect x="662.00" y="137.50" width="16.20" height="65.50" fill="#fff" stroke="#000" stroke-width="1.2" rx="3.5" />
<text transform="translate(670.30 151.20) scale(1 1.2)" font-size="12" text-anchor="middle" letter-spacing="0" fill="#000" >V</text>
<text transform="translate(670.30 166.30) scale(1 1.2)" font-size="12" text-anchor="middle" letter-spacing="0" fill="#000" >R</text>
<text transform="translate(670.30 181.40) scale(1 1.2)" font-size="12" text-anchor="middle" letter-spacing="0" fill="#000" >A</text>
<text transform="translate(670.30 196.50) scale(1 1.2)" font-size="12" text-anchor="middle" letter-spacing="0" fill="#000" >M</text>
<rect x="679.00" y="175.80" width="77.10" height="51.70" fill="#000" />
<rect x="682.80" y="173.00" width="66.40" height="3.00" fill="#000" />
<rect x="685.40" y="227.40" width="66.30" height="2.60" fill="#000" />
<path d="M685.50 172.8 V175.4 M688.10 228 V230.2 M688.18 172.8 V175.4 M690.78 228 V230.2 M690.86 172.8 V175.4 M693.46 228 V230.2 M693.54 172.8 V175.4 M696.14 228 V230.2 M696.22 172.8 V175.4 M698.82 228 V230.2 M698.90 172.8 V175.4 M701.50 228 V230.2 M701.58 172.8 V175.4 M704.18 228 V230.2 M704.26 172.8 V175.4 M706.86 228 V230.2 M706.94 172.8 V175.4 M709.54 228 V230.2 M709.62 172.8 V175.4 M712.22 228 V230.2 M712.30 172.8 V175.4 M714.90 228 V230.2 M714.98 172.8 V175.4 M717.58 228 V230.2 M717.66 172.8 V175.4 M720.26 228 V230.2 M720.34 172.8 V175.4 M722.94 228 V230.2 M723.02 172.8 V175.4 M725.62 228 V230.2 M725.70 172.8 V175.4 M728.30 228 V230.2 M728.38 172.8 V175.4 M730.98 228 V230.2 M731.06 172.8 V175.4 M733.66 228 V230.2 M733.74 172.8 V175.4 M736.34 228 V230.2 M736.42 172.8 V175.4 M739.02 228 V230.2 M739.10 172.8 V175.4 M741.70 228 V230.2 M741.78 172.8 V175.4 M744.38 228 V230.2 M744.46 172.8 V175.4 M747.06 228 V230.2 M747.14 172.8 V175.4 M749.74 228 V230.2 " stroke="#fff" stroke-width="0.9" fill="none" shape-rendering="auto"/>
<rect x="752.30" y="183.00" width="3.90" height="1.00" fill="#fff" />
<rect x="752.30" y="205.00" width="3.90" height="1.00" fill="#fff" />
<rect x="680.00" y="190.00" width="2.30" height="1.00" fill="#fff" />
<rect x="679.00" y="211.90" width="3.30" height="1.00" fill="#fff" />
<rect x="679.00" y="221.90" width="3.30" height="1.00" fill="#fff" />
<rect x="739.50" y="162.00" width="12.00" height="7.00" fill="#000" />
<rect x="745.30" y="163.80" width="1.00" height="3.40" fill="#fff" />
<polygon points="773.00,161.50 768.00,163.50 754.00,165.70 768.00,167.50 773.00,170.00" fill="#fff" stroke="#000" stroke-width="2" stroke-linejoin="miter" shape-rendering="geometricPrecision"/>
<rect x="771.30" y="156.10" width="35.40" height="19.10" fill="#000" rx="3.2" shape-rendering="geometricPrecision"/>
<rect x="772.90" y="157.70" width="31.60" height="14.70" fill="#fff" rx="2.0" shape-rendering="geometricPrecision"/>
<text transform="translate(788.00 169.67) scale(1 1.2)" font-size="12" text-anchor="middle" letter-spacing="1" fill="#000" >J14</text>
<rect x="640.50" y="250.00" width="88.50" height="41.50" fill="#000" />
<rect x="665.30" y="264.40" width="39.70" height="14.10" fill="#fff" />
<text transform="translate(685.50 276.00) scale(1 1.2)" font-size="12" text-anchor="middle" letter-spacing="1" fill="#000" >BIOS</text>
<rect x="756.00" y="277.00" width="7.00" height="18.00" fill="#000" />
<path d="M757.5 281.50 H761" stroke="#fff" stroke-width="1"/>
<path d="M757.5 286.00 H761" stroke="#fff" stroke-width="1"/>
<path d="M757.5 290.50 H761" stroke="#fff" stroke-width="1"/>
<polygon points="780.50,282.00 776.00,284.00 765.00,286.20 776.00,288.00 780.50,290.50" fill="#fff" stroke="#000" stroke-width="2" stroke-linejoin="miter" shape-rendering="geometricPrecision"/>
<rect x="778.80" y="276.60" width="36.40" height="19.10" fill="#000" rx="3.2" shape-rendering="geometricPrecision"/>
<rect x="780.40" y="278.20" width="32.60" height="14.70" fill="#fff" rx="2.0" shape-rendering="geometricPrecision"/>
<text transform="translate(796.00 290.17) scale(1 1.2)" font-size="12" text-anchor="middle" letter-spacing="1" fill="#000" >J12</text>
<rect x="451.00" y="309.00" width="129.00" height="20.00" fill="#000" />
<rect x="459.00" y="316.00" width="113.00" height="6.00" fill="#fff" />
<rect x="590.00" y="309.00" width="202.00" height="20.00" fill="#000" />
<rect x="598.00" y="316.00" width="10.50" height="6.00" fill="#fff" />
<rect x="634.00" y="316.00" width="150.50" height="6.00" fill="#fff" />
<rect x="610.50" y="311.50" width="21.50" height="15.00" fill="#fff" />
<text transform="translate(621.70 323.50) scale(1 1.2)" font-size="12" text-anchor="middle" letter-spacing="1.5" fill="#000" >S1</text>
<polygon points="695.50,339.00 700.00,341.00 714.00,343.20 700.00,345.00 695.50,347.50" fill="#fff" stroke="#000" stroke-width="2" stroke-linejoin="miter" shape-rendering="geometricPrecision"/>
<rect x="662.80" y="333.60" width="33.90" height="19.10" fill="#000" rx="3.2" shape-rendering="geometricPrecision"/>
<rect x="664.40" y="335.20" width="30.10" height="14.70" fill="#fff" rx="2.0" shape-rendering="geometricPrecision"/>
<text transform="translate(678.75 347.17) scale(1 1.2)" font-size="12" text-anchor="middle" letter-spacing="1" fill="#000" >J10</text>
<rect x="716.00" y="334.00" width="6.00" height="18.00" fill="#000" />
<path d="M717.3 338.50 H720.7" stroke="#fff" stroke-width="1"/>
<path d="M717.3 343.00 H720.7" stroke="#fff" stroke-width="1"/>
<path d="M717.3 347.50 H720.7" stroke="#fff" stroke-width="1"/>
<rect x="674.50" y="371.50" width="12.20" height="59.40" fill="#fff" stroke="#000" stroke-width="1" />
<rect x="676.70" y="373.70" width="2.75" height="3.43" fill="#fff" stroke="#000" stroke-width="0.9" />
<rect x="681.25" y="373.20" width="3.75" height="4.43" fill="#000" shape-rendering="geometricPrecision"/>
<rect x="676.20" y="378.93" width="3.75" height="4.43" fill="#000" shape-rendering="geometricPrecision"/>
<rect x="681.25" y="378.93" width="3.75" height="4.43" fill="#000" shape-rendering="geometricPrecision"/>
<rect x="676.20" y="384.66" width="3.75" height="4.43" fill="#000" shape-rendering="geometricPrecision"/>
<rect x="681.25" y="384.66" width="3.75" height="4.43" fill="#000" shape-rendering="geometricPrecision"/>
<rect x="676.20" y="390.39" width="3.75" height="4.43" fill="#000" shape-rendering="geometricPrecision"/>
<rect x="681.25" y="390.39" width="3.75" height="4.43" fill="#000" shape-rendering="geometricPrecision"/>
<rect x="676.20" y="396.12" width="3.75" height="4.43" fill="#000" shape-rendering="geometricPrecision"/>
<rect x="681.25" y="396.12" width="3.75" height="4.43" fill="#000" shape-rendering="geometricPrecision"/>
<rect x="676.20" y="401.85" width="3.75" height="4.43" fill="#000" shape-rendering="geometricPrecision"/>
<rect x="681.25" y="401.85" width="3.75" height="4.43" fill="#000" shape-rendering="geometricPrecision"/>
<rect x="676.20" y="407.58" width="3.75" height="4.43" fill="#000" shape-rendering="geometricPrecision"/>
<rect x="681.25" y="407.58" width="3.75" height="4.43" fill="#000" shape-rendering="geometricPrecision"/>
<rect x="676.20" y="413.31" width="3.75" height="4.43" fill="#000" shape-rendering="geometricPrecision"/>
<rect x="681.25" y="413.31" width="3.75" height="4.43" fill="#000" shape-rendering="geometricPrecision"/>
<rect x="676.20" y="419.04" width="3.75" height="4.43" fill="#000" shape-rendering="geometricPrecision"/>
<rect x="681.25" y="419.04" width="3.75" height="4.43" fill="#000" shape-rendering="geometricPrecision"/>
<rect x="676.20" y="424.77" width="3.75" height="4.43" fill="#000" shape-rendering="geometricPrecision"/>
<rect x="681.25" y="424.77" width="3.75" height="4.43" fill="#000" shape-rendering="geometricPrecision"/>
<polygon points="654.00,397.00 659.00,399.00 672.00,401.20 659.00,403.00 654.00,405.50" fill="#fff" stroke="#000" stroke-width="2" stroke-linejoin="miter" shape-rendering="geometricPrecision"/>
<rect x="618.80" y="391.60" width="36.40" height="19.10" fill="#000" rx="3.2" shape-rendering="geometricPrecision"/>
<rect x="620.40" y="393.20" width="32.60" height="14.70" fill="#fff" rx="2.0" shape-rendering="geometricPrecision"/>
<text transform="translate(636.00 405.17) scale(1 1.2)" font-size="12" text-anchor="middle" letter-spacing="1" fill="#000" >J21</text>
<text transform="translate(690.70 374.70) scale(1 1.0)" font-size="11.3" text-anchor="middle" letter-spacing="0" fill="#000" >2</text>
<text transform="translate(664.30 434.40) scale(1 1.0)" font-size="11.3" text-anchor="middle" letter-spacing="-0.4" fill="#000" >19</text>
<text transform="translate(694.30 434.40) scale(1 1.0)" font-size="11.3" text-anchor="middle" letter-spacing="-0.2" fill="#000" >20</text>
<rect x="718.00" y="376.50" width="49.00" height="50.00" fill="#000" rx="4" />
<polygon points="387.00,472.50 392.00,474.50 403.00,476.50 392.00,478.50 387.00,481.00" fill="#fff" stroke="#000" stroke-width="2" stroke-linejoin="miter" shape-rendering="geometricPrecision"/>
<rect x="351.80" y="467.60" width="36.40" height="18.10" fill="#000" rx="3.2" shape-rendering="geometricPrecision"/>
<rect x="353.40" y="469.20" width="32.60" height="13.70" fill="#fff" rx="2.0" shape-rendering="geometricPrecision"/>
<text transform="translate(369.00 480.67) scale(1 1.2)" font-size="12" text-anchor="middle" letter-spacing="1" fill="#000" >J25</text>
<rect x="405.00" y="470.50" width="119.00" height="12.20" fill="#000" />
<path d="M410.10 471.80 V481.70 M416.00 471.80 V481.70 M421.90 471.80 V481.70 M427.80 471.80 V481.70 M433.70 471.80 V481.70 M439.60 471.80 V481.70 M445.50 471.80 V481.70 M451.40 471.80 V481.70 M457.30 471.80 V481.70 M463.20 471.80 V481.70 M469.10 471.80 V481.70 M475.00 471.80 V481.70 M480.90 471.80 V481.70 M486.80 471.80 V481.70 M492.70 471.80 V481.70 M498.60 471.80 V481.70 M504.50 471.80 V481.70 M510.40 471.80 V481.70 M516.30 471.80 V481.70 M522.20 471.80 V481.70 " stroke="#fff" stroke-width="1.5" fill="none" shape-rendering="auto"/>
<path d="M406.50 476.60 H522.50" stroke="#fff" stroke-width="0.8" fill="none" shape-rendering="auto"/>
<polygon points="387.00,500.00 392.00,502.00 403.00,504.00 392.00,506.00 387.00,508.50" fill="#fff" stroke="#000" stroke-width="2" stroke-linejoin="miter" shape-rendering="geometricPrecision"/>
<rect x="351.80" y="495.10" width="36.40" height="18.60" fill="#000" rx="3.2" shape-rendering="geometricPrecision"/>
<rect x="353.40" y="496.70" width="32.60" height="14.20" fill="#fff" rx="2.0" shape-rendering="geometricPrecision"/>
<text transform="translate(369.00 508.42) scale(1 1.2)" font-size="12" text-anchor="middle" letter-spacing="1" fill="#000" >J27</text>
<rect x="405.00" y="498.30" width="100.80" height="11.50" fill="#000" />
<path d="M410.10 499.60 V508.80 M416.00 499.60 V508.80 M421.90 499.60 V508.80 M427.80 499.60 V508.80 M433.70 499.60 V508.80 M439.60 499.60 V508.80 M445.50 499.60 V508.80 M451.40 499.60 V508.80 M457.30 499.60 V508.80 M463.20 499.60 V508.80 M469.10 499.60 V508.80 M475.00 499.60 V508.80 M480.90 499.60 V508.80 M486.80 499.60 V508.80 M492.70 499.60 V508.80 M498.60 499.60 V508.80 " stroke="#fff" stroke-width="1.5" fill="none" shape-rendering="auto"/>
<path d="M406.50 504.05 H504.30" stroke="#fff" stroke-width="0.8" fill="none" shape-rendering="auto"/>
<polygon points="545.00,497.50 547.50,500.80 562.00,502.80 547.50,504.80 545.00,507.50" fill="#fff" stroke="#000" stroke-width="2" stroke-linejoin="miter" shape-rendering="geometricPrecision"/>
<rect x="511.10" y="493.20" width="35.10" height="18.90" fill="#000" rx="3.2" shape-rendering="geometricPrecision"/>
<rect x="512.70" y="494.80" width="31.30" height="14.50" fill="#fff" rx="2.0" shape-rendering="geometricPrecision"/>
<text transform="translate(527.65 506.67) scale(1 1.2)" font-size="12" text-anchor="middle" letter-spacing="1" fill="#000" >J26</text>
<polygon points="568.50,484.00 574.00,487.50 580.00,493.50 577.00,486.50 573.00,482.00" fill="#fff" stroke="#000" stroke-width="2" stroke-linejoin="miter" shape-rendering="geometricPrecision"/>
<rect x="539.80" y="467.60" width="33.90" height="18.10" fill="#000" rx="3.2" shape-rendering="geometricPrecision"/>
<rect x="541.40" y="469.20" width="30.10" height="13.70" fill="#fff" rx="2.0" shape-rendering="geometricPrecision"/>
<text transform="translate(555.75 480.67) scale(1 1.2)" font-size="12" text-anchor="middle" letter-spacing="1" fill="#000" >J24</text>
<polygon points="600.60,474.00 601.30,484.00 601.80,492.00 602.60,484.00 603.60,474.00" fill="#fff" stroke="#000" stroke-width="2" stroke-linejoin="miter" shape-rendering="geometricPrecision"/>
<rect x="586.30" y="456.60" width="32.90" height="19.10" fill="#000" rx="3.2" shape-rendering="geometricPrecision"/>
<rect x="587.90" y="458.20" width="29.10" height="14.70" fill="#fff" rx="2.0" shape-rendering="geometricPrecision"/>
<text transform="translate(601.75 470.17) scale(1 1.2)" font-size="12" text-anchor="middle" letter-spacing="1" fill="#000" >J22</text>
<polygon points="631.00,482.00 627.50,486.50 623.50,493.50 630.00,487.50 635.50,484.00" fill="#fff" stroke="#000" stroke-width="2" stroke-linejoin="miter" shape-rendering="geometricPrecision"/>
<rect x="629.80" y="467.60" width="33.40" height="18.10" fill="#000" rx="3.2" shape-rendering="geometricPrecision"/>
<rect x="631.40" y="469.20" width="29.60" height="13.70" fill="#fff" rx="2.0" shape-rendering="geometricPrecision"/>
<text transform="translate(645.50 480.67) scale(1 1.2)" font-size="12" text-anchor="middle" letter-spacing="1" fill="#000" >J18</text>
<polygon points="579.00,522.00 584.00,518.00 590.50,512.50 586.50,518.50 583.50,524.00" fill="#fff" stroke="#000" stroke-width="2" stroke-linejoin="miter" shape-rendering="geometricPrecision"/>
<rect x="550.80" y="520.60" width="33.40" height="18.60" fill="#000" rx="3.2" shape-rendering="geometricPrecision"/>
<rect x="552.40" y="522.20" width="29.60" height="14.20" fill="#fff" rx="2.0" shape-rendering="geometricPrecision"/>
<text transform="translate(566.50 533.92) scale(1 1.2)" font-size="12" text-anchor="middle" letter-spacing="1" fill="#000" >J23</text>
<polygon points="620.00,524.00 617.00,518.50 612.00,512.50 619.50,518.00 625.00,521.50" fill="#fff" stroke="#000" stroke-width="2" stroke-linejoin="miter" shape-rendering="geometricPrecision"/>
<rect x="618.30" y="519.60" width="33.90" height="19.60" fill="#000" rx="3.2" shape-rendering="geometricPrecision"/>
<rect x="619.90" y="521.20" width="30.10" height="15.20" fill="#fff" rx="2.0" shape-rendering="geometricPrecision"/>
<text transform="translate(634.25 533.42) scale(1 1.2)" font-size="12" text-anchor="middle" letter-spacing="1" fill="#000" >J20</text>
<rect x="566.30" y="493.10" width="6.70" height="18.70" fill="#000" />
<rect x="568.10" y="494.30" width="3.10" height="1.40" fill="#fff" />
<rect x="568.10" y="499.20" width="3.10" height="1.90" fill="#fff" />
<rect x="568.10" y="504.70" width="3.10" height="2.30" fill="#fff" />
<rect x="571.10" y="494.30" width="0.90" height="16.50" fill="#fff" />
<rect x="577.20" y="493.10" width="6.60" height="18.70" fill="#000" />
<rect x="579.00" y="494.30" width="3.00" height="1.40" fill="#fff" />
<rect x="579.00" y="499.20" width="3.00" height="1.90" fill="#fff" />
<rect x="579.00" y="504.70" width="3.00" height="2.30" fill="#fff" />
<rect x="581.90" y="494.30" width="0.90" height="16.50" fill="#fff" />
<rect x="588.00" y="493.10" width="6.80" height="18.70" fill="#000" />
<rect x="589.80" y="494.30" width="3.20" height="1.40" fill="#fff" />
<rect x="589.80" y="499.20" width="3.20" height="1.90" fill="#fff" />
<rect x="589.80" y="504.70" width="3.20" height="2.30" fill="#fff" />
<rect x="598.10" y="493.10" width="6.90" height="18.70" fill="#000" />
<rect x="599.90" y="494.30" width="3.30" height="1.40" fill="#fff" />
<rect x="599.90" y="499.20" width="3.30" height="1.90" fill="#fff" />
<rect x="599.90" y="504.70" width="3.30" height="2.30" fill="#fff" />
<rect x="599.10" y="494.30" width="0.90" height="16.50" fill="#fff" />
<rect x="609.10" y="493.10" width="6.90" height="18.70" fill="#000" />
<rect x="610.90" y="494.30" width="3.30" height="1.40" fill="#fff" />
<rect x="610.90" y="499.20" width="3.30" height="1.90" fill="#fff" />
<rect x="610.90" y="504.70" width="3.30" height="2.30" fill="#fff" />
<rect x="620.00" y="493.10" width="6.80" height="18.70" fill="#000" />
<rect x="621.80" y="494.30" width="3.20" height="1.40" fill="#fff" />
<rect x="621.80" y="499.20" width="3.20" height="1.90" fill="#fff" />
<rect x="621.80" y="504.70" width="3.20" height="2.30" fill="#fff" />
<rect x="634.20" y="499.00" width="7.00" height="12.80" fill="#000" />
<path d="M636.3 500.5 V509.6 H640" stroke="#fff" stroke-width="0.9" fill="none"/>
<rect x="654.80" y="491.50" width="111.70" height="22.80" fill="#fff" stroke="#000" stroke-width="1" />
<rect x="656.00" y="498.60" width="109.50" height="1.40" fill="#000" />
<rect x="656.60" y="494.00" width="6.00" height="2.80" fill="#000" rx="1.2" />
<rect x="657.80" y="496.00" width="3.60" height="3.00" fill="#000" />
<rect x="656.90" y="501.20" width="5.40" height="2.40" fill="#000" />
<path d="M657.90 502.4 H661.50" stroke="#fff" stroke-width="0.8" stroke-dasharray="0.8 0.7" shape-rendering="auto"/>
<rect x="657.00" y="505.30" width="5.60" height="6.50" fill="#fff" stroke="#000" stroke-width="1" />
<rect x="665.77" y="494.00" width="6.00" height="2.80" fill="#000" rx="1.2" />
<rect x="666.97" y="496.00" width="3.60" height="3.00" fill="#000" />
<rect x="666.07" y="501.20" width="5.40" height="2.40" fill="#000" />
<path d="M667.07 502.4 H670.67" stroke="#fff" stroke-width="0.8" stroke-dasharray="0.8 0.7" shape-rendering="auto"/>
<rect x="666.17" y="505.30" width="5.60" height="6.50" fill="#fff" stroke="#000" stroke-width="1" />
<rect x="674.94" y="494.00" width="6.00" height="2.80" fill="#000" rx="1.2" />
<rect x="676.14" y="496.00" width="3.60" height="3.00" fill="#000" />
<rect x="675.24" y="501.20" width="5.40" height="2.40" fill="#000" />
<path d="M676.24 502.4 H679.84" stroke="#fff" stroke-width="0.8" stroke-dasharray="0.8 0.7" shape-rendering="auto"/>
<rect x="675.34" y="505.30" width="5.60" height="6.50" fill="#fff" stroke="#000" stroke-width="1" />
<rect x="684.11" y="494.00" width="6.00" height="2.80" fill="#000" rx="1.2" />
<rect x="685.31" y="496.00" width="3.60" height="3.00" fill="#000" />
<rect x="684.41" y="501.20" width="5.40" height="2.40" fill="#000" />
<path d="M685.41 502.4 H689.01" stroke="#fff" stroke-width="0.8" stroke-dasharray="0.8 0.7" shape-rendering="auto"/>
<rect x="684.51" y="505.30" width="5.60" height="6.50" fill="#fff" stroke="#000" stroke-width="1" />
<rect x="693.28" y="494.00" width="6.00" height="2.80" fill="#000" rx="1.2" />
<rect x="694.48" y="496.00" width="3.60" height="3.00" fill="#000" />
<rect x="693.58" y="501.20" width="5.40" height="2.40" fill="#000" />
<path d="M694.58 502.4 H698.18" stroke="#fff" stroke-width="0.8" stroke-dasharray="0.8 0.7" shape-rendering="auto"/>
<rect x="693.68" y="505.30" width="5.60" height="6.50" fill="#fff" stroke="#000" stroke-width="1" />
<rect x="702.45" y="494.00" width="6.00" height="2.80" fill="#000" rx="1.2" />
<rect x="703.65" y="496.00" width="3.60" height="3.00" fill="#000" />
<rect x="702.75" y="501.20" width="5.40" height="2.40" fill="#000" />
<path d="M703.75 502.4 H707.35" stroke="#fff" stroke-width="0.8" stroke-dasharray="0.8 0.7" shape-rendering="auto"/>
<rect x="702.85" y="505.30" width="5.60" height="6.50" fill="#fff" stroke="#000" stroke-width="1" />
<rect x="711.62" y="494.00" width="6.00" height="2.80" fill="#000" rx="1.2" />
<rect x="712.82" y="496.00" width="3.60" height="3.00" fill="#000" />
<rect x="711.92" y="501.20" width="5.40" height="2.40" fill="#000" />
<path d="M712.92 502.4 H716.52" stroke="#fff" stroke-width="0.8" stroke-dasharray="0.8 0.7" shape-rendering="auto"/>
<rect x="712.02" y="505.30" width="5.60" height="6.50" fill="#fff" stroke="#000" stroke-width="1" />
<rect x="720.79" y="494.00" width="6.00" height="2.80" fill="#000" rx="1.2" />
<rect x="721.99" y="496.00" width="3.60" height="3.00" fill="#000" />
<rect x="721.09" y="501.20" width="5.40" height="2.40" fill="#000" />
<path d="M722.09 502.4 H725.69" stroke="#fff" stroke-width="0.8" stroke-dasharray="0.8 0.7" shape-rendering="auto"/>
<rect x="721.19" y="505.30" width="5.60" height="6.50" fill="#fff" stroke="#000" stroke-width="1" />
<rect x="729.96" y="494.00" width="6.00" height="2.80" fill="#000" rx="1.2" />
<rect x="731.16" y="496.00" width="3.60" height="3.00" fill="#000" />
<rect x="730.26" y="501.20" width="5.40" height="2.40" fill="#000" />
<path d="M731.26 502.4 H734.86" stroke="#fff" stroke-width="0.8" stroke-dasharray="0.8 0.7" shape-rendering="auto"/>
<rect x="730.36" y="505.30" width="5.60" height="6.50" fill="#fff" stroke="#000" stroke-width="1" />
<rect x="739.13" y="494.00" width="6.00" height="2.80" fill="#000" rx="1.2" />
<rect x="740.33" y="496.00" width="3.60" height="3.00" fill="#000" />
<rect x="739.43" y="501.20" width="5.40" height="2.40" fill="#000" />
<path d="M740.43 502.4 H744.03" stroke="#fff" stroke-width="0.8" stroke-dasharray="0.8 0.7" shape-rendering="auto"/>
<rect x="739.53" y="505.30" width="5.60" height="6.50" fill="#fff" stroke="#000" stroke-width="1" />
<rect x="748.30" y="494.00" width="6.00" height="2.80" fill="#000" rx="1.2" />
<rect x="749.50" y="496.00" width="3.60" height="3.00" fill="#000" />
<rect x="748.60" y="501.20" width="5.40" height="2.40" fill="#000" />
<path d="M749.60 502.4 H753.20" stroke="#fff" stroke-width="0.8" stroke-dasharray="0.8 0.7" shape-rendering="auto"/>
<rect x="748.70" y="505.30" width="5.60" height="6.50" fill="#fff" stroke="#000" stroke-width="1" />
<rect x="757.47" y="494.00" width="6.00" height="2.80" fill="#000" rx="1.2" />
<rect x="758.67" y="496.00" width="3.60" height="3.00" fill="#000" />
<rect x="757.77" y="501.20" width="5.40" height="2.40" fill="#000" />
<path d="M758.77 502.4 H762.37" stroke="#fff" stroke-width="0.8" stroke-dasharray="0.8 0.7" shape-rendering="auto"/>
<rect x="757.87" y="505.30" width="5.60" height="6.50" fill="#fff" stroke="#000" stroke-width="1" />
<rect x="763.60" y="505.00" width="2.90" height="7.00" fill="#000" />
<rect x="764.60" y="507.50" width="1.40" height="2.00" fill="#fff" />
<path d="M656 505.5 H658.5 V511.5 H656" fill="none" stroke="#000" stroke-width="1"/>
<polygon points="661.00,502.00 657.00,503.20 643.00,505.00 657.00,506.50 661.00,508.50" fill="#fff" stroke="#000" stroke-width="2" stroke-linejoin="miter" shape-rendering="geometricPrecision"/>
<rect x="659.20" y="497.20" width="34.70" height="16.50" fill="#000" rx="3.2" shape-rendering="geometricPrecision"/>
<rect x="660.80" y="498.80" width="30.90" height="12.70" fill="#fff" rx="2.0" shape-rendering="geometricPrecision"/>
<text transform="translate(675.55 509.77) scale(1 1.2)" font-size="12" text-anchor="middle" letter-spacing="1" fill="#000" >J17</text>
<path d="M774 451.5 H795 Q798 452 797.5 456 Q796 462 797.5 468 Q799 474 797 480 L797.5 488 H772 Q770.5 482 772 476 Q773 470 771.5 464 Q771 458 771.5 455 Q772 452 774 451.5 Z" fill="#fff" stroke="#000" stroke-width="1"/>
<polygon points="792.50,502.00 797.30,505.80 803.80,511.20 799.80,504.50 796.50,499.00" fill="#fff" stroke="#000" stroke-width="2" stroke-linejoin="miter" shape-rendering="geometricPrecision"/>
<rect x="772.80" y="485.60" width="24.40" height="18.40" fill="#000" rx="3.2" shape-rendering="geometricPrecision"/>
<rect x="774.40" y="487.20" width="20.60" height="14.00" fill="#fff" rx="2.0" shape-rendering="geometricPrecision"/>
<text transform="translate(784.00 498.82) scale(1 1.2)" font-size="12" text-anchor="middle" letter-spacing="1" fill="#000" >J8</text>
<rect x="796.80" y="511.80" width="14.00" height="6.20" fill="#000" />
<path d="M801.3 513.3 V516.8 M806 513.3 V516.8" stroke="#fff" stroke-width="1"/>
<polygon points="840.00,501.00 845.00,503.00 857.00,504.80 845.00,506.50 840.00,509.00" fill="#fff" stroke="#000" stroke-width="2" stroke-linejoin="miter" shape-rendering="geometricPrecision"/>
<rect x="817.80" y="496.10" width="23.40" height="19.10" fill="#000" rx="3.2" shape-rendering="geometricPrecision"/>
<rect x="819.40" y="497.70" width="19.60" height="14.70" fill="#fff" rx="2.0" shape-rendering="geometricPrecision"/>
<text transform="translate(828.50 509.67) scale(1 1.2)" font-size="12" text-anchor="middle" letter-spacing="1" fill="#000" >J7</text>
<rect x="858.00" y="492.50" width="6.30" height="25.50" fill="#000" />
<path d="M859.3 497.60 H863" stroke="#fff" stroke-width="1"/>
<path d="M859.3 502.70 H863" stroke="#fff" stroke-width="1"/>
<path d="M859.3 507.80 H863" stroke="#fff" stroke-width="1"/>
<path d="M859.3 512.90 H863" stroke="#fff" stroke-width="1"/>
</g></svg>
</body></html>
